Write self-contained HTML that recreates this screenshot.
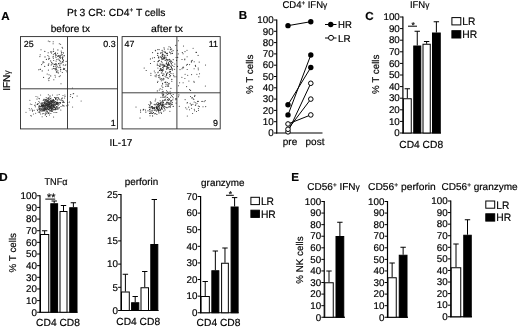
<!DOCTYPE html>
<html><head><meta charset="utf-8"><title>figure</title>
<style>
html,body{margin:0;padding:0;background:#fff;}
body{width:520px;height:328px;overflow:hidden;font-family:"Liberation Sans",sans-serif;}
svg{display:block;filter:blur(0.3px);}
svg text{font-family:"Liberation Sans",sans-serif;fill:#000;stroke:#000;stroke-width:0.18px;text-rendering:geometricPrecision;}
</style></head><body>
<svg width="520" height="328" viewBox="0 0 520 328">
<rect x="0" y="0" width="520" height="328" fill="#fff" stroke="none"/>
<text x="1.2" y="19.5" font-size="11.6" text-anchor="start" font-weight="bold" >A</text>
<text x="67" y="15.5" font-size="10.3" text-anchor="start" font-weight="normal" textLength="98.5" lengthAdjust="spacingAndGlyphs" >Pt 3 CR: CD4<tspan font-size="6.4" dy="-3.6">+</tspan><tspan dy="3.6"> T cells</tspan></text>
<text x="50.7" y="31.5" font-size="10" text-anchor="start" font-weight="normal" textLength="39.3" lengthAdjust="spacingAndGlyphs" >before tx</text>
<text x="151" y="31.5" font-size="10" text-anchor="start" font-weight="normal" textLength="32" lengthAdjust="spacingAndGlyphs" >after tx</text>
<text transform="translate(10.4,80.6) rotate(-90)" font-size="10" text-anchor="middle">IFN<tspan font-size="8.6">&#947;</tspan></text>
<text x="109.5" y="145.5" font-size="10" text-anchor="start" font-weight="normal" >IL-17</text>
<rect x="20.5" y="36.6" width="97.0" height="92.30000000000001" fill="#fff" stroke="#2a2a2a" stroke-width="0.9"/>
<line x1="67.5" y1="36.6" x2="67.5" y2="128.9" stroke="#2a2a2a" stroke-width="0.9"/>
<line x1="20.5" y1="88.8" x2="117.5" y2="88.8" stroke="#2a2a2a" stroke-width="0.9"/>
<circle cx="44.7" cy="66.4" r="0.56" fill="#3a3a3a"/>
<circle cx="62.5" cy="58.4" r="0.56" fill="#3a3a3a"/>
<circle cx="43.9" cy="62.4" r="0.56" fill="#3a3a3a"/>
<circle cx="58.3" cy="72.9" r="0.56" fill="#3a3a3a"/>
<circle cx="44.8" cy="51.4" r="0.56" fill="#3a3a3a"/>
<circle cx="60.1" cy="67.3" r="0.56" fill="#3a3a3a"/>
<circle cx="66.8" cy="71.8" r="0.56" fill="#3a3a3a"/>
<circle cx="53.7" cy="60.5" r="0.56" fill="#3a3a3a"/>
<circle cx="48.2" cy="52.8" r="0.56" fill="#3a3a3a"/>
<circle cx="55.3" cy="64.3" r="0.56" fill="#3a3a3a"/>
<circle cx="51.7" cy="62.4" r="0.56" fill="#3a3a3a"/>
<circle cx="56.7" cy="69.2" r="0.56" fill="#3a3a3a"/>
<circle cx="63.3" cy="64.9" r="0.56" fill="#3a3a3a"/>
<circle cx="40.2" cy="69.3" r="0.56" fill="#3a3a3a"/>
<circle cx="43.1" cy="61.5" r="0.56" fill="#3a3a3a"/>
<circle cx="42.7" cy="63.0" r="0.56" fill="#3a3a3a"/>
<circle cx="48.3" cy="64.9" r="0.56" fill="#3a3a3a"/>
<circle cx="61.2" cy="51.1" r="0.56" fill="#3a3a3a"/>
<circle cx="52.2" cy="69.0" r="0.56" fill="#3a3a3a"/>
<circle cx="53.8" cy="66.3" r="0.56" fill="#3a3a3a"/>
<circle cx="55.3" cy="53.9" r="0.56" fill="#3a3a3a"/>
<circle cx="59.0" cy="55.7" r="0.56" fill="#3a3a3a"/>
<circle cx="60.0" cy="63.0" r="0.56" fill="#3a3a3a"/>
<circle cx="62.1" cy="57.6" r="0.56" fill="#3a3a3a"/>
<circle cx="62.5" cy="61.9" r="0.56" fill="#3a3a3a"/>
<circle cx="64.6" cy="68.6" r="0.56" fill="#3a3a3a"/>
<circle cx="55.6" cy="56.0" r="0.56" fill="#3a3a3a"/>
<circle cx="60.6" cy="67.2" r="0.56" fill="#3a3a3a"/>
<circle cx="58.9" cy="67.6" r="0.56" fill="#3a3a3a"/>
<circle cx="56.8" cy="64.9" r="0.56" fill="#3a3a3a"/>
<circle cx="56.0" cy="57.6" r="0.56" fill="#3a3a3a"/>
<circle cx="46.4" cy="59.4" r="0.56" fill="#3a3a3a"/>
<circle cx="59.2" cy="76.6" r="0.56" fill="#3a3a3a"/>
<circle cx="62.3" cy="72.5" r="0.56" fill="#3a3a3a"/>
<circle cx="60.7" cy="69.3" r="0.56" fill="#3a3a3a"/>
<circle cx="56.0" cy="69.9" r="0.56" fill="#3a3a3a"/>
<circle cx="48.9" cy="80.6" r="0.56" fill="#3a3a3a"/>
<circle cx="56.5" cy="71.7" r="0.56" fill="#3a3a3a"/>
<circle cx="61.5" cy="52.8" r="0.56" fill="#3a3a3a"/>
<circle cx="55.9" cy="69.8" r="0.56" fill="#3a3a3a"/>
<circle cx="55.5" cy="55.0" r="0.56" fill="#3a3a3a"/>
<circle cx="53.6" cy="66.4" r="0.56" fill="#3a3a3a"/>
<circle cx="63.4" cy="69.4" r="0.56" fill="#3a3a3a"/>
<circle cx="55.0" cy="75.2" r="0.56" fill="#3a3a3a"/>
<circle cx="48.4" cy="70.1" r="0.56" fill="#3a3a3a"/>
<circle cx="63.4" cy="60.4" r="0.56" fill="#3a3a3a"/>
<circle cx="40.2" cy="54.8" r="0.56" fill="#3a3a3a"/>
<circle cx="56.4" cy="67.8" r="0.56" fill="#3a3a3a"/>
<circle cx="54.5" cy="68.8" r="0.56" fill="#3a3a3a"/>
<circle cx="53.2" cy="41.7" r="0.56" fill="#3a3a3a"/>
<circle cx="61.0" cy="83.8" r="0.56" fill="#3a3a3a"/>
<circle cx="62.5" cy="54.7" r="0.56" fill="#3a3a3a"/>
<circle cx="51.2" cy="65.0" r="0.56" fill="#3a3a3a"/>
<circle cx="55.4" cy="77.0" r="0.56" fill="#3a3a3a"/>
<circle cx="53.8" cy="79.8" r="0.56" fill="#3a3a3a"/>
<circle cx="49.0" cy="58.7" r="0.56" fill="#3a3a3a"/>
<circle cx="60.3" cy="75.8" r="0.56" fill="#3a3a3a"/>
<circle cx="59.7" cy="65.7" r="0.56" fill="#3a3a3a"/>
<circle cx="39.9" cy="56.6" r="0.56" fill="#3a3a3a"/>
<circle cx="49.6" cy="58.2" r="0.56" fill="#3a3a3a"/>
<circle cx="59.2" cy="60.0" r="0.56" fill="#3a3a3a"/>
<circle cx="60.8" cy="63.7" r="0.56" fill="#3a3a3a"/>
<circle cx="51.8" cy="64.1" r="0.56" fill="#3a3a3a"/>
<circle cx="57.9" cy="70.7" r="0.56" fill="#3a3a3a"/>
<circle cx="50.7" cy="60.9" r="0.56" fill="#3a3a3a"/>
<circle cx="43.6" cy="77.4" r="0.56" fill="#3a3a3a"/>
<circle cx="66.1" cy="61.4" r="0.56" fill="#3a3a3a"/>
<circle cx="50.7" cy="51.9" r="0.56" fill="#3a3a3a"/>
<circle cx="55.9" cy="64.9" r="0.56" fill="#3a3a3a"/>
<circle cx="48.3" cy="41.0" r="0.56" fill="#3a3a3a"/>
<circle cx="65.8" cy="64.7" r="0.56" fill="#3a3a3a"/>
<circle cx="41.6" cy="64.6" r="0.56" fill="#3a3a3a"/>
<circle cx="63.5" cy="68.2" r="0.56" fill="#3a3a3a"/>
<circle cx="53.1" cy="43.7" r="0.56" fill="#3a3a3a"/>
<circle cx="53.5" cy="49.0" r="0.56" fill="#3a3a3a"/>
<circle cx="59.3" cy="43.8" r="0.56" fill="#3a3a3a"/>
<circle cx="47.2" cy="74.0" r="0.56" fill="#3a3a3a"/>
<circle cx="42.2" cy="70.9" r="0.56" fill="#3a3a3a"/>
<circle cx="61.3" cy="54.1" r="0.56" fill="#3a3a3a"/>
<circle cx="48.9" cy="56.8" r="0.56" fill="#3a3a3a"/>
<circle cx="45.0" cy="56.9" r="0.56" fill="#3a3a3a"/>
<circle cx="64.5" cy="69.2" r="0.56" fill="#3a3a3a"/>
<circle cx="53.4" cy="54.2" r="0.56" fill="#3a3a3a"/>
<circle cx="53.5" cy="51.2" r="0.56" fill="#3a3a3a"/>
<circle cx="40.3" cy="69.3" r="0.56" fill="#3a3a3a"/>
<circle cx="66.0" cy="70.5" r="0.56" fill="#3a3a3a"/>
<circle cx="65.2" cy="65.3" r="0.56" fill="#3a3a3a"/>
<circle cx="48.8" cy="63.8" r="0.56" fill="#3a3a3a"/>
<circle cx="51.5" cy="53.0" r="0.56" fill="#3a3a3a"/>
<circle cx="41.0" cy="49.7" r="0.56" fill="#3a3a3a"/>
<circle cx="54.5" cy="64.4" r="0.56" fill="#3a3a3a"/>
<circle cx="50.7" cy="75.9" r="0.56" fill="#3a3a3a"/>
<circle cx="55.9" cy="68.2" r="0.56" fill="#3a3a3a"/>
<circle cx="64.2" cy="55.6" r="0.56" fill="#3a3a3a"/>
<circle cx="38.7" cy="69.8" r="0.56" fill="#3a3a3a"/>
<circle cx="49.0" cy="74.8" r="0.56" fill="#3a3a3a"/>
<circle cx="57.2" cy="72.1" r="0.56" fill="#3a3a3a"/>
<circle cx="60.6" cy="44.3" r="0.56" fill="#3a3a3a"/>
<circle cx="60.3" cy="56.9" r="0.56" fill="#3a3a3a"/>
<circle cx="48.5" cy="59.1" r="0.56" fill="#3a3a3a"/>
<circle cx="60.6" cy="71.0" r="0.56" fill="#3a3a3a"/>
<circle cx="62.6" cy="48.1" r="0.56" fill="#3a3a3a"/>
<circle cx="49.8" cy="41.6" r="0.56" fill="#3a3a3a"/>
<circle cx="53.7" cy="68.4" r="0.56" fill="#3a3a3a"/>
<circle cx="48.4" cy="65.2" r="0.56" fill="#3a3a3a"/>
<circle cx="56.4" cy="72.1" r="0.56" fill="#3a3a3a"/>
<circle cx="47.9" cy="55.5" r="0.56" fill="#3a3a3a"/>
<circle cx="48.4" cy="78.8" r="0.56" fill="#3a3a3a"/>
<circle cx="63.2" cy="61.9" r="0.56" fill="#3a3a3a"/>
<circle cx="56.3" cy="64.0" r="0.56" fill="#3a3a3a"/>
<circle cx="56.1" cy="61.1" r="0.56" fill="#3a3a3a"/>
<circle cx="51.8" cy="51.7" r="0.56" fill="#3a3a3a"/>
<circle cx="49.4" cy="77.9" r="0.56" fill="#3a3a3a"/>
<circle cx="58.8" cy="63.6" r="0.56" fill="#3a3a3a"/>
<circle cx="52.8" cy="63.6" r="0.56" fill="#3a3a3a"/>
<circle cx="60.2" cy="55.8" r="0.56" fill="#3a3a3a"/>
<circle cx="59.7" cy="60.2" r="0.56" fill="#3a3a3a"/>
<circle cx="56.4" cy="55.1" r="0.56" fill="#3a3a3a"/>
<circle cx="55.5" cy="53.7" r="0.56" fill="#3a3a3a"/>
<circle cx="62.1" cy="47.2" r="0.56" fill="#3a3a3a"/>
<circle cx="58.1" cy="55.9" r="0.56" fill="#3a3a3a"/>
<circle cx="56.8" cy="59.5" r="0.56" fill="#3a3a3a"/>
<circle cx="62.9" cy="59.4" r="0.56" fill="#3a3a3a"/>
<circle cx="58.5" cy="55.9" r="0.56" fill="#3a3a3a"/>
<circle cx="58.5" cy="63.6" r="0.56" fill="#3a3a3a"/>
<circle cx="57.6" cy="53.3" r="0.56" fill="#3a3a3a"/>
<circle cx="54.6" cy="53.5" r="0.56" fill="#3a3a3a"/>
<circle cx="54.1" cy="64.5" r="0.56" fill="#3a3a3a"/>
<circle cx="60.2" cy="57.8" r="0.56" fill="#3a3a3a"/>
<circle cx="64.1" cy="55.7" r="0.56" fill="#3a3a3a"/>
<circle cx="61.6" cy="63.0" r="0.56" fill="#3a3a3a"/>
<circle cx="53.6" cy="51.2" r="0.56" fill="#3a3a3a"/>
<circle cx="55.8" cy="63.5" r="0.56" fill="#3a3a3a"/>
<circle cx="63.5" cy="52.9" r="0.56" fill="#3a3a3a"/>
<circle cx="62.7" cy="57.1" r="0.56" fill="#3a3a3a"/>
<circle cx="57.6" cy="56.2" r="0.56" fill="#3a3a3a"/>
<circle cx="57.9" cy="49.9" r="0.56" fill="#3a3a3a"/>
<circle cx="55.5" cy="52.8" r="0.56" fill="#3a3a3a"/>
<circle cx="60.7" cy="69.4" r="0.56" fill="#3a3a3a"/>
<circle cx="53.0" cy="57.0" r="0.56" fill="#3a3a3a"/>
<circle cx="55.7" cy="68.9" r="0.56" fill="#3a3a3a"/>
<circle cx="61.0" cy="55.4" r="0.56" fill="#3a3a3a"/>
<circle cx="62.3" cy="61.7" r="0.56" fill="#3a3a3a"/>
<circle cx="53.3" cy="56.3" r="0.56" fill="#3a3a3a"/>
<circle cx="58.2" cy="59.1" r="0.56" fill="#3a3a3a"/>
<circle cx="59.5" cy="57.3" r="0.56" fill="#3a3a3a"/>
<circle cx="59.7" cy="56.1" r="0.56" fill="#3a3a3a"/>
<circle cx="55.9" cy="66.6" r="0.56" fill="#3a3a3a"/>
<circle cx="60.3" cy="61.2" r="0.56" fill="#3a3a3a"/>
<circle cx="53.4" cy="58.2" r="0.56" fill="#3a3a3a"/>
<circle cx="61.9" cy="52.5" r="0.56" fill="#3a3a3a"/>
<circle cx="62.8" cy="57.1" r="0.56" fill="#3a3a3a"/>
<circle cx="60.4" cy="58.3" r="0.56" fill="#3a3a3a"/>
<circle cx="59.8" cy="65.0" r="0.56" fill="#3a3a3a"/>
<circle cx="57.6" cy="66.8" r="0.56" fill="#3a3a3a"/>
<circle cx="44.6" cy="102.9" r="0.5" fill="#222"/>
<circle cx="53.6" cy="100.7" r="0.5" fill="#222"/>
<circle cx="47.1" cy="108.9" r="0.5" fill="#222"/>
<circle cx="56.6" cy="97.7" r="0.5" fill="#222"/>
<circle cx="52.3" cy="111.4" r="0.5" fill="#222"/>
<circle cx="56.5" cy="103.1" r="0.5" fill="#222"/>
<circle cx="45.7" cy="104.9" r="0.5" fill="#222"/>
<circle cx="42.4" cy="105.6" r="0.5" fill="#222"/>
<circle cx="48.2" cy="105.0" r="0.5" fill="#222"/>
<circle cx="56.4" cy="103.2" r="0.5" fill="#222"/>
<circle cx="40.6" cy="110.6" r="0.5" fill="#222"/>
<circle cx="42.9" cy="104.9" r="0.5" fill="#222"/>
<circle cx="48.5" cy="104.2" r="0.5" fill="#222"/>
<circle cx="43.3" cy="105.5" r="0.5" fill="#222"/>
<circle cx="62.4" cy="100.7" r="0.5" fill="#222"/>
<circle cx="48.5" cy="109.4" r="0.5" fill="#222"/>
<circle cx="53.8" cy="107.2" r="0.5" fill="#222"/>
<circle cx="54.5" cy="97.4" r="0.5" fill="#222"/>
<circle cx="44.1" cy="106.7" r="0.5" fill="#222"/>
<circle cx="52.3" cy="109.3" r="0.5" fill="#222"/>
<circle cx="52.1" cy="103.9" r="0.5" fill="#222"/>
<circle cx="49.5" cy="104.5" r="0.5" fill="#222"/>
<circle cx="50.8" cy="107.4" r="0.5" fill="#222"/>
<circle cx="47.3" cy="102.8" r="0.5" fill="#222"/>
<circle cx="44.2" cy="110.1" r="0.5" fill="#222"/>
<circle cx="57.0" cy="107.4" r="0.5" fill="#222"/>
<circle cx="54.4" cy="107.3" r="0.5" fill="#222"/>
<circle cx="49.3" cy="107.6" r="0.5" fill="#222"/>
<circle cx="43.0" cy="105.8" r="0.5" fill="#222"/>
<circle cx="44.9" cy="108.7" r="0.5" fill="#222"/>
<circle cx="45.8" cy="105.6" r="0.5" fill="#222"/>
<circle cx="51.7" cy="109.6" r="0.5" fill="#222"/>
<circle cx="44.5" cy="102.9" r="0.5" fill="#222"/>
<circle cx="54.2" cy="100.5" r="0.5" fill="#222"/>
<circle cx="52.0" cy="102.8" r="0.5" fill="#222"/>
<circle cx="48.7" cy="99.0" r="0.5" fill="#222"/>
<circle cx="53.6" cy="102.7" r="0.5" fill="#222"/>
<circle cx="43.9" cy="113.6" r="0.5" fill="#222"/>
<circle cx="53.6" cy="116.9" r="0.5" fill="#222"/>
<circle cx="51.7" cy="103.6" r="0.5" fill="#222"/>
<circle cx="49.9" cy="110.9" r="0.5" fill="#222"/>
<circle cx="49.1" cy="106.9" r="0.5" fill="#222"/>
<circle cx="52.4" cy="101.5" r="0.5" fill="#222"/>
<circle cx="50.1" cy="103.4" r="0.5" fill="#222"/>
<circle cx="41.8" cy="109.8" r="0.5" fill="#222"/>
<circle cx="53.3" cy="104.8" r="0.5" fill="#222"/>
<circle cx="43.9" cy="99.2" r="0.5" fill="#222"/>
<circle cx="52.2" cy="104.4" r="0.5" fill="#222"/>
<circle cx="39.2" cy="107.0" r="0.5" fill="#222"/>
<circle cx="40.2" cy="106.9" r="0.5" fill="#222"/>
<circle cx="50.2" cy="106.4" r="0.5" fill="#222"/>
<circle cx="50.6" cy="105.7" r="0.5" fill="#222"/>
<circle cx="42.5" cy="105.2" r="0.5" fill="#222"/>
<circle cx="46.2" cy="105.0" r="0.5" fill="#222"/>
<circle cx="50.9" cy="107.2" r="0.5" fill="#222"/>
<circle cx="59.1" cy="94.4" r="0.5" fill="#222"/>
<circle cx="51.7" cy="104.2" r="0.5" fill="#222"/>
<circle cx="63.0" cy="106.1" r="0.5" fill="#222"/>
<circle cx="39.4" cy="108.6" r="0.5" fill="#222"/>
<circle cx="46.2" cy="109.4" r="0.5" fill="#222"/>
<circle cx="43.0" cy="106.1" r="0.5" fill="#222"/>
<circle cx="48.5" cy="105.1" r="0.5" fill="#222"/>
<circle cx="45.8" cy="99.5" r="0.5" fill="#222"/>
<circle cx="52.1" cy="108.3" r="0.5" fill="#222"/>
<circle cx="48.9" cy="101.8" r="0.5" fill="#222"/>
<circle cx="50.5" cy="107.1" r="0.5" fill="#222"/>
<circle cx="48.2" cy="105.4" r="0.5" fill="#222"/>
<circle cx="57.8" cy="99.8" r="0.5" fill="#222"/>
<circle cx="46.0" cy="99.2" r="0.5" fill="#222"/>
<circle cx="45.1" cy="103.5" r="0.5" fill="#222"/>
<circle cx="43.5" cy="103.9" r="0.5" fill="#222"/>
<circle cx="60.1" cy="102.6" r="0.5" fill="#222"/>
<circle cx="48.6" cy="113.2" r="0.5" fill="#222"/>
<circle cx="48.9" cy="99.2" r="0.5" fill="#222"/>
<circle cx="51.7" cy="101.5" r="0.5" fill="#222"/>
<circle cx="59.1" cy="99.1" r="0.5" fill="#222"/>
<circle cx="45.8" cy="100.3" r="0.5" fill="#222"/>
<circle cx="49.9" cy="101.6" r="0.5" fill="#222"/>
<circle cx="48.9" cy="104.0" r="0.5" fill="#222"/>
<circle cx="45.6" cy="109.3" r="0.5" fill="#222"/>
<circle cx="54.9" cy="104.5" r="0.5" fill="#222"/>
<circle cx="43.9" cy="102.5" r="0.5" fill="#222"/>
<circle cx="50.9" cy="113.4" r="0.5" fill="#222"/>
<circle cx="46.6" cy="103.0" r="0.5" fill="#222"/>
<circle cx="45.1" cy="102.2" r="0.5" fill="#222"/>
<circle cx="43.5" cy="105.7" r="0.5" fill="#222"/>
<circle cx="57.9" cy="103.7" r="0.5" fill="#222"/>
<circle cx="46.2" cy="100.2" r="0.5" fill="#222"/>
<circle cx="50.6" cy="105.0" r="0.5" fill="#222"/>
<circle cx="41.9" cy="102.8" r="0.5" fill="#222"/>
<circle cx="49.0" cy="108.9" r="0.5" fill="#222"/>
<circle cx="53.1" cy="105.3" r="0.5" fill="#222"/>
<circle cx="47.4" cy="106.8" r="0.5" fill="#222"/>
<circle cx="49.2" cy="113.0" r="0.5" fill="#222"/>
<circle cx="42.5" cy="105.3" r="0.5" fill="#222"/>
<circle cx="56.9" cy="103.0" r="0.5" fill="#222"/>
<circle cx="57.8" cy="103.6" r="0.5" fill="#222"/>
<circle cx="50.2" cy="103.8" r="0.5" fill="#222"/>
<circle cx="41.0" cy="103.4" r="0.5" fill="#222"/>
<circle cx="62.6" cy="105.1" r="0.5" fill="#222"/>
<circle cx="52.9" cy="108.0" r="0.5" fill="#222"/>
<circle cx="52.7" cy="108.3" r="0.5" fill="#222"/>
<circle cx="47.7" cy="104.8" r="0.5" fill="#222"/>
<circle cx="55.2" cy="103.0" r="0.5" fill="#222"/>
<circle cx="41.3" cy="106.0" r="0.5" fill="#222"/>
<circle cx="46.0" cy="108.1" r="0.5" fill="#222"/>
<circle cx="45.0" cy="102.4" r="0.5" fill="#222"/>
<circle cx="47.3" cy="111.1" r="0.5" fill="#222"/>
<circle cx="49.0" cy="105.9" r="0.5" fill="#222"/>
<circle cx="49.4" cy="106.3" r="0.5" fill="#222"/>
<circle cx="54.9" cy="109.2" r="0.5" fill="#222"/>
<circle cx="39.4" cy="111.9" r="0.5" fill="#222"/>
<circle cx="49.3" cy="104.2" r="0.5" fill="#222"/>
<circle cx="63.7" cy="102.0" r="0.5" fill="#222"/>
<circle cx="61.0" cy="106.6" r="0.5" fill="#222"/>
<circle cx="43.1" cy="108.2" r="0.5" fill="#222"/>
<circle cx="53.7" cy="104.0" r="0.5" fill="#222"/>
<circle cx="35.3" cy="106.7" r="0.5" fill="#222"/>
<circle cx="48.2" cy="101.6" r="0.5" fill="#222"/>
<circle cx="60.3" cy="102.4" r="0.5" fill="#222"/>
<circle cx="46.9" cy="104.7" r="0.5" fill="#222"/>
<circle cx="44.6" cy="103.4" r="0.5" fill="#222"/>
<circle cx="49.9" cy="106.3" r="0.5" fill="#222"/>
<circle cx="46.3" cy="105.5" r="0.5" fill="#222"/>
<circle cx="41.0" cy="108.7" r="0.5" fill="#222"/>
<circle cx="44.8" cy="106.9" r="0.5" fill="#222"/>
<circle cx="43.9" cy="104.5" r="0.5" fill="#222"/>
<circle cx="50.6" cy="100.8" r="0.5" fill="#222"/>
<circle cx="64.1" cy="102.4" r="0.5" fill="#222"/>
<circle cx="48.9" cy="102.8" r="0.5" fill="#222"/>
<circle cx="58.9" cy="108.4" r="0.5" fill="#222"/>
<circle cx="51.1" cy="100.1" r="0.5" fill="#222"/>
<circle cx="46.3" cy="108.0" r="0.5" fill="#222"/>
<circle cx="46.2" cy="101.7" r="0.5" fill="#222"/>
<circle cx="42.2" cy="103.9" r="0.5" fill="#222"/>
<circle cx="49.4" cy="103.0" r="0.5" fill="#222"/>
<circle cx="49.4" cy="115.1" r="0.5" fill="#222"/>
<circle cx="59.9" cy="99.7" r="0.5" fill="#222"/>
<circle cx="51.4" cy="105.2" r="0.5" fill="#222"/>
<circle cx="48.5" cy="109.1" r="0.5" fill="#222"/>
<circle cx="47.3" cy="104.5" r="0.5" fill="#222"/>
<circle cx="47.1" cy="105.4" r="0.5" fill="#222"/>
<circle cx="57.0" cy="106.6" r="0.5" fill="#222"/>
<circle cx="41.3" cy="105.2" r="0.5" fill="#222"/>
<circle cx="44.5" cy="109.1" r="0.5" fill="#222"/>
<circle cx="50.6" cy="108.2" r="0.5" fill="#222"/>
<circle cx="48.9" cy="98.6" r="0.5" fill="#222"/>
<circle cx="52.0" cy="105.6" r="0.5" fill="#222"/>
<circle cx="52.3" cy="100.1" r="0.5" fill="#222"/>
<circle cx="49.8" cy="102.8" r="0.5" fill="#222"/>
<circle cx="45.2" cy="107.3" r="0.5" fill="#222"/>
<circle cx="51.4" cy="101.8" r="0.5" fill="#222"/>
<circle cx="39.0" cy="98.5" r="0.5" fill="#222"/>
<circle cx="45.8" cy="109.9" r="0.5" fill="#222"/>
<circle cx="49.0" cy="97.4" r="0.5" fill="#222"/>
<circle cx="44.1" cy="107.7" r="0.5" fill="#222"/>
<circle cx="59.3" cy="107.6" r="0.5" fill="#222"/>
<circle cx="51.5" cy="105.6" r="0.5" fill="#222"/>
<circle cx="42.9" cy="104.9" r="0.5" fill="#222"/>
<circle cx="47.3" cy="102.9" r="0.5" fill="#222"/>
<circle cx="49.7" cy="103.8" r="0.5" fill="#222"/>
<circle cx="51.3" cy="110.0" r="0.5" fill="#222"/>
<circle cx="53.7" cy="106.0" r="0.5" fill="#222"/>
<circle cx="47.9" cy="100.2" r="0.5" fill="#222"/>
<circle cx="48.6" cy="107.3" r="0.5" fill="#222"/>
<circle cx="43.2" cy="110.8" r="0.5" fill="#222"/>
<circle cx="47.3" cy="107.0" r="0.5" fill="#222"/>
<circle cx="47.3" cy="101.2" r="0.5" fill="#222"/>
<circle cx="61.7" cy="98.9" r="0.5" fill="#222"/>
<circle cx="54.8" cy="102.3" r="0.5" fill="#222"/>
<circle cx="51.0" cy="102.1" r="0.5" fill="#222"/>
<circle cx="46.8" cy="109.0" r="0.5" fill="#222"/>
<circle cx="61.0" cy="100.2" r="0.5" fill="#222"/>
<circle cx="49.4" cy="108.6" r="0.5" fill="#222"/>
<circle cx="45.5" cy="108.5" r="0.5" fill="#222"/>
<circle cx="44.6" cy="108.3" r="0.5" fill="#222"/>
<circle cx="51.9" cy="109.1" r="0.5" fill="#222"/>
<circle cx="51.5" cy="100.7" r="0.5" fill="#222"/>
<circle cx="53.3" cy="100.7" r="0.5" fill="#222"/>
<circle cx="53.8" cy="109.8" r="0.5" fill="#222"/>
<circle cx="52.9" cy="102.7" r="0.5" fill="#222"/>
<circle cx="56.5" cy="104.6" r="0.5" fill="#222"/>
<circle cx="41.8" cy="105.4" r="0.5" fill="#222"/>
<circle cx="57.8" cy="102.7" r="0.5" fill="#222"/>
<circle cx="50.0" cy="104.0" r="0.5" fill="#222"/>
<circle cx="39.2" cy="105.4" r="0.5" fill="#222"/>
<circle cx="51.4" cy="105.6" r="0.5" fill="#222"/>
<circle cx="48.3" cy="98.0" r="0.5" fill="#222"/>
<circle cx="56.6" cy="106.5" r="0.5" fill="#222"/>
<circle cx="55.4" cy="108.8" r="0.5" fill="#222"/>
<circle cx="46.6" cy="103.7" r="0.5" fill="#222"/>
<circle cx="51.2" cy="110.9" r="0.5" fill="#222"/>
<circle cx="39.2" cy="106.4" r="0.5" fill="#222"/>
<circle cx="45.0" cy="108.1" r="0.5" fill="#222"/>
<circle cx="58.1" cy="102.6" r="0.5" fill="#222"/>
<circle cx="41.9" cy="106.9" r="0.5" fill="#222"/>
<circle cx="47.6" cy="100.2" r="0.5" fill="#222"/>
<circle cx="54.6" cy="102.5" r="0.5" fill="#222"/>
<circle cx="53.4" cy="99.9" r="0.5" fill="#222"/>
<circle cx="55.9" cy="99.0" r="0.5" fill="#222"/>
<circle cx="55.6" cy="97.7" r="0.5" fill="#222"/>
<circle cx="57.6" cy="102.4" r="0.5" fill="#222"/>
<circle cx="40.0" cy="106.2" r="0.5" fill="#222"/>
<circle cx="51.3" cy="101.4" r="0.5" fill="#222"/>
<circle cx="46.3" cy="106.8" r="0.5" fill="#222"/>
<circle cx="48.3" cy="94.7" r="0.5" fill="#222"/>
<circle cx="46.7" cy="107.3" r="0.5" fill="#222"/>
<circle cx="51.1" cy="108.5" r="0.5" fill="#222"/>
<circle cx="45.2" cy="115.1" r="0.5" fill="#222"/>
<circle cx="54.1" cy="105.5" r="0.5" fill="#222"/>
<circle cx="55.8" cy="107.5" r="0.5" fill="#222"/>
<circle cx="49.9" cy="103.0" r="0.5" fill="#222"/>
<circle cx="55.4" cy="105.7" r="0.5" fill="#222"/>
<circle cx="37.9" cy="103.5" r="0.5" fill="#222"/>
<circle cx="52.1" cy="105.2" r="0.5" fill="#222"/>
<circle cx="51.0" cy="107.3" r="0.5" fill="#222"/>
<circle cx="50.2" cy="110.7" r="0.5" fill="#222"/>
<circle cx="45.8" cy="104.5" r="0.5" fill="#222"/>
<circle cx="51.2" cy="107.6" r="0.5" fill="#222"/>
<circle cx="54.0" cy="109.7" r="0.5" fill="#222"/>
<circle cx="46.4" cy="109.9" r="0.5" fill="#222"/>
<circle cx="52.1" cy="101.1" r="0.5" fill="#222"/>
<circle cx="48.5" cy="112.8" r="0.5" fill="#222"/>
<circle cx="54.0" cy="102.8" r="0.5" fill="#222"/>
<circle cx="34.9" cy="105.4" r="0.5" fill="#222"/>
<circle cx="45.1" cy="106.4" r="0.5" fill="#222"/>
<circle cx="63.2" cy="105.4" r="0.5" fill="#222"/>
<circle cx="51.2" cy="101.7" r="0.5" fill="#222"/>
<circle cx="42.2" cy="105.9" r="0.5" fill="#222"/>
<circle cx="46.5" cy="116.4" r="0.5" fill="#222"/>
<circle cx="46.9" cy="103.6" r="0.5" fill="#222"/>
<circle cx="56.1" cy="104.3" r="0.5" fill="#222"/>
<circle cx="41.9" cy="111.2" r="0.5" fill="#222"/>
<circle cx="47.4" cy="101.0" r="0.5" fill="#222"/>
<circle cx="51.2" cy="106.7" r="0.5" fill="#222"/>
<circle cx="47.3" cy="108.1" r="0.5" fill="#222"/>
<circle cx="54.2" cy="101.3" r="0.5" fill="#222"/>
<circle cx="37.0" cy="99.1" r="0.5" fill="#222"/>
<circle cx="48.5" cy="109.8" r="0.5" fill="#222"/>
<circle cx="55.3" cy="109.1" r="0.5" fill="#222"/>
<circle cx="60.4" cy="103.3" r="0.5" fill="#222"/>
<circle cx="55.6" cy="98.7" r="0.5" fill="#222"/>
<circle cx="53.4" cy="105.9" r="0.5" fill="#222"/>
<circle cx="48.7" cy="103.8" r="0.5" fill="#222"/>
<circle cx="42.6" cy="107.0" r="0.5" fill="#222"/>
<circle cx="57.0" cy="102.6" r="0.5" fill="#222"/>
<circle cx="52.5" cy="102.4" r="0.5" fill="#222"/>
<circle cx="50.8" cy="101.5" r="0.5" fill="#222"/>
<circle cx="51.6" cy="104.1" r="0.5" fill="#222"/>
<circle cx="51.2" cy="102.8" r="0.5" fill="#222"/>
<circle cx="42.2" cy="105.4" r="0.5" fill="#222"/>
<circle cx="55.5" cy="109.7" r="0.5" fill="#222"/>
<circle cx="47.4" cy="108.5" r="0.5" fill="#222"/>
<circle cx="53.9" cy="105.8" r="0.5" fill="#222"/>
<circle cx="40.0" cy="108.2" r="0.5" fill="#222"/>
<circle cx="43.5" cy="110.5" r="0.5" fill="#222"/>
<circle cx="54.0" cy="106.6" r="0.5" fill="#222"/>
<circle cx="34.1" cy="110.3" r="0.5" fill="#222"/>
<circle cx="53.5" cy="100.0" r="0.5" fill="#222"/>
<circle cx="55.1" cy="104.5" r="0.5" fill="#222"/>
<circle cx="48.2" cy="103.0" r="0.5" fill="#222"/>
<circle cx="43.2" cy="104.9" r="0.5" fill="#222"/>
<circle cx="67.8" cy="102.6" r="0.5" fill="#222"/>
<circle cx="50.5" cy="102.8" r="0.5" fill="#222"/>
<circle cx="45.6" cy="104.0" r="0.5" fill="#222"/>
<circle cx="44.0" cy="109.4" r="0.5" fill="#222"/>
<circle cx="47.7" cy="108.7" r="0.5" fill="#222"/>
<circle cx="42.4" cy="109.9" r="0.5" fill="#222"/>
<circle cx="49.1" cy="107.7" r="0.5" fill="#222"/>
<circle cx="48.7" cy="102.3" r="0.5" fill="#222"/>
<circle cx="56.6" cy="102.4" r="0.5" fill="#222"/>
<circle cx="48.4" cy="102.3" r="0.5" fill="#222"/>
<circle cx="50.5" cy="103.7" r="0.5" fill="#222"/>
<circle cx="51.0" cy="106.2" r="0.5" fill="#222"/>
<circle cx="45.2" cy="101.1" r="0.5" fill="#222"/>
<circle cx="51.9" cy="108.1" r="0.5" fill="#222"/>
<circle cx="53.5" cy="100.5" r="0.5" fill="#222"/>
<circle cx="52.9" cy="106.0" r="0.5" fill="#222"/>
<circle cx="51.0" cy="106.5" r="0.5" fill="#222"/>
<circle cx="47.4" cy="106.4" r="0.5" fill="#222"/>
<circle cx="54.9" cy="102.5" r="0.5" fill="#222"/>
<circle cx="40.7" cy="106.5" r="0.5" fill="#222"/>
<circle cx="50.5" cy="98.6" r="0.5" fill="#222"/>
<circle cx="45.2" cy="108.1" r="0.5" fill="#222"/>
<circle cx="48.4" cy="105.8" r="0.5" fill="#222"/>
<circle cx="41.7" cy="109.9" r="0.5" fill="#222"/>
<circle cx="59.8" cy="102.6" r="0.5" fill="#222"/>
<circle cx="44.9" cy="102.0" r="0.5" fill="#222"/>
<circle cx="54.6" cy="104.7" r="0.5" fill="#222"/>
<circle cx="44.5" cy="110.5" r="0.5" fill="#222"/>
<circle cx="53.9" cy="106.6" r="0.5" fill="#222"/>
<circle cx="38.7" cy="106.9" r="0.5" fill="#222"/>
<circle cx="53.1" cy="100.3" r="0.5" fill="#222"/>
<circle cx="54.9" cy="109.3" r="0.5" fill="#222"/>
<circle cx="55.5" cy="101.6" r="0.5" fill="#222"/>
<circle cx="45.1" cy="109.4" r="0.5" fill="#222"/>
<circle cx="55.3" cy="108.5" r="0.5" fill="#222"/>
<circle cx="56.5" cy="103.6" r="0.5" fill="#222"/>
<circle cx="46.8" cy="99.2" r="0.5" fill="#222"/>
<circle cx="54.0" cy="112.5" r="0.5" fill="#222"/>
<circle cx="46.5" cy="104.1" r="0.5" fill="#222"/>
<circle cx="53.2" cy="105.9" r="0.5" fill="#222"/>
<circle cx="41.1" cy="104.3" r="0.5" fill="#222"/>
<circle cx="42.7" cy="113.7" r="0.5" fill="#222"/>
<circle cx="45.0" cy="109.1" r="0.5" fill="#222"/>
<circle cx="60.8" cy="109.9" r="0.5" fill="#222"/>
<circle cx="57.9" cy="109.5" r="0.5" fill="#222"/>
<circle cx="41.9" cy="105.5" r="0.5" fill="#222"/>
<circle cx="44.9" cy="105.1" r="0.5" fill="#222"/>
<circle cx="65.0" cy="96.5" r="0.5" fill="#222"/>
<circle cx="52.6" cy="100.3" r="0.5" fill="#222"/>
<circle cx="57.3" cy="108.4" r="0.5" fill="#222"/>
<circle cx="46.2" cy="113.2" r="0.5" fill="#222"/>
<circle cx="49.7" cy="109.8" r="0.5" fill="#222"/>
<circle cx="51.2" cy="103.0" r="0.5" fill="#222"/>
<circle cx="47.0" cy="105.3" r="0.5" fill="#222"/>
<circle cx="53.0" cy="105.1" r="0.5" fill="#222"/>
<circle cx="63.5" cy="102.0" r="0.5" fill="#222"/>
<circle cx="46.5" cy="103.3" r="0.5" fill="#222"/>
<circle cx="44.6" cy="101.1" r="0.5" fill="#222"/>
<circle cx="43.4" cy="109.6" r="0.5" fill="#222"/>
<circle cx="49.7" cy="104.6" r="0.5" fill="#222"/>
<circle cx="51.4" cy="108.7" r="0.5" fill="#222"/>
<circle cx="53.0" cy="107.3" r="0.5" fill="#222"/>
<circle cx="45.9" cy="105.0" r="0.5" fill="#222"/>
<circle cx="44.6" cy="105.8" r="0.5" fill="#222"/>
<circle cx="44.4" cy="104.9" r="0.5" fill="#222"/>
<circle cx="48.3" cy="104.7" r="0.5" fill="#222"/>
<circle cx="47.7" cy="103.9" r="0.5" fill="#222"/>
<circle cx="57.2" cy="102.6" r="0.5" fill="#222"/>
<circle cx="43.2" cy="107.1" r="0.5" fill="#222"/>
<circle cx="42.8" cy="102.7" r="0.5" fill="#222"/>
<circle cx="49.8" cy="99.3" r="0.5" fill="#222"/>
<circle cx="30.0" cy="109.9" r="0.5" fill="#222"/>
<circle cx="55.5" cy="98.3" r="0.5" fill="#222"/>
<circle cx="43.9" cy="108.3" r="0.5" fill="#222"/>
<circle cx="37.4" cy="104.4" r="0.5" fill="#222"/>
<circle cx="42.1" cy="105.9" r="0.5" fill="#222"/>
<circle cx="37.5" cy="110.6" r="0.5" fill="#222"/>
<circle cx="48.4" cy="106.5" r="0.5" fill="#222"/>
<circle cx="47.3" cy="98.2" r="0.5" fill="#222"/>
<circle cx="48.4" cy="100.7" r="0.5" fill="#222"/>
<circle cx="49.4" cy="102.3" r="0.5" fill="#222"/>
<circle cx="47.4" cy="104.9" r="0.5" fill="#222"/>
<circle cx="53.9" cy="107.1" r="0.5" fill="#222"/>
<circle cx="43.3" cy="106.4" r="0.5" fill="#222"/>
<circle cx="58.1" cy="105.4" r="0.5" fill="#222"/>
<circle cx="44.9" cy="105.7" r="0.5" fill="#222"/>
<circle cx="47.2" cy="109.0" r="0.5" fill="#222"/>
<circle cx="49.5" cy="106.6" r="0.5" fill="#222"/>
<circle cx="62.6" cy="98.0" r="0.5" fill="#222"/>
<circle cx="43.2" cy="100.3" r="0.5" fill="#222"/>
<circle cx="39.7" cy="110.1" r="0.5" fill="#222"/>
<circle cx="51.1" cy="110.7" r="0.5" fill="#222"/>
<circle cx="37.5" cy="104.4" r="0.5" fill="#222"/>
<circle cx="58.0" cy="107.3" r="0.5" fill="#222"/>
<circle cx="54.6" cy="107.4" r="0.5" fill="#222"/>
<circle cx="49.5" cy="105.2" r="0.5" fill="#222"/>
<circle cx="49.5" cy="108.2" r="0.5" fill="#222"/>
<circle cx="48.3" cy="106.6" r="0.5" fill="#222"/>
<circle cx="63.0" cy="95.6" r="0.5" fill="#3a3a3a"/>
<circle cx="41.0" cy="109.0" r="0.5" fill="#3a3a3a"/>
<circle cx="45.9" cy="104.3" r="0.5" fill="#3a3a3a"/>
<circle cx="69.5" cy="102.0" r="0.5" fill="#3a3a3a"/>
<circle cx="44.3" cy="111.0" r="0.5" fill="#3a3a3a"/>
<circle cx="73.7" cy="93.4" r="0.5" fill="#3a3a3a"/>
<circle cx="41.8" cy="106.6" r="0.5" fill="#3a3a3a"/>
<circle cx="42.1" cy="116.8" r="0.5" fill="#3a3a3a"/>
<circle cx="53.8" cy="101.3" r="0.5" fill="#3a3a3a"/>
<circle cx="53.4" cy="99.4" r="0.5" fill="#3a3a3a"/>
<circle cx="42.4" cy="106.4" r="0.5" fill="#3a3a3a"/>
<circle cx="72.4" cy="87.9" r="0.5" fill="#3a3a3a"/>
<circle cx="52.7" cy="110.4" r="0.5" fill="#3a3a3a"/>
<circle cx="55.9" cy="112.6" r="0.5" fill="#3a3a3a"/>
<circle cx="53.0" cy="104.2" r="0.5" fill="#3a3a3a"/>
<circle cx="47.2" cy="100.5" r="0.5" fill="#3a3a3a"/>
<circle cx="64.9" cy="94.9" r="0.5" fill="#3a3a3a"/>
<circle cx="47.3" cy="102.1" r="0.5" fill="#3a3a3a"/>
<circle cx="40.6" cy="95.0" r="0.5" fill="#3a3a3a"/>
<circle cx="44.7" cy="106.0" r="0.5" fill="#3a3a3a"/>
<circle cx="49.9" cy="108.4" r="0.5" fill="#3a3a3a"/>
<circle cx="46.9" cy="101.6" r="0.5" fill="#3a3a3a"/>
<circle cx="51.6" cy="107.2" r="0.5" fill="#3a3a3a"/>
<circle cx="39.5" cy="98.8" r="0.5" fill="#3a3a3a"/>
<circle cx="38.2" cy="112.1" r="0.5" fill="#3a3a3a"/>
<circle cx="58.5" cy="97.8" r="0.5" fill="#3a3a3a"/>
<circle cx="49.6" cy="108.5" r="0.5" fill="#3a3a3a"/>
<circle cx="61.8" cy="98.3" r="0.5" fill="#3a3a3a"/>
<circle cx="46.1" cy="112.1" r="0.5" fill="#3a3a3a"/>
<circle cx="72.6" cy="106.9" r="0.5" fill="#3a3a3a"/>
<circle cx="37.1" cy="109.3" r="0.5" fill="#3a3a3a"/>
<circle cx="45.5" cy="104.9" r="0.5" fill="#3a3a3a"/>
<circle cx="41.9" cy="103.5" r="0.5" fill="#3a3a3a"/>
<circle cx="48.4" cy="113.6" r="0.5" fill="#3a3a3a"/>
<circle cx="55.5" cy="105.1" r="0.5" fill="#3a3a3a"/>
<circle cx="48.8" cy="100.7" r="0.5" fill="#3a3a3a"/>
<circle cx="46.2" cy="111.3" r="0.5" fill="#3a3a3a"/>
<circle cx="56.8" cy="112.6" r="0.5" fill="#3a3a3a"/>
<circle cx="51.1" cy="103.8" r="0.5" fill="#3a3a3a"/>
<circle cx="32.3" cy="110.1" r="0.5" fill="#3a3a3a"/>
<circle cx="31.3" cy="116.0" r="0.5" fill="#3a3a3a"/>
<circle cx="42.2" cy="105.9" r="0.5" fill="#3a3a3a"/>
<circle cx="35.0" cy="105.0" r="0.5" fill="#3a3a3a"/>
<circle cx="39.2" cy="112.3" r="0.5" fill="#3a3a3a"/>
<circle cx="51.0" cy="98.0" r="0.5" fill="#3a3a3a"/>
<circle cx="29.2" cy="108.4" r="0.5" fill="#3a3a3a"/>
<circle cx="43.6" cy="100.0" r="0.5" fill="#3a3a3a"/>
<circle cx="54.4" cy="102.3" r="0.5" fill="#3a3a3a"/>
<circle cx="49.6" cy="101.3" r="0.5" fill="#3a3a3a"/>
<circle cx="42.8" cy="103.4" r="0.5" fill="#3a3a3a"/>
<circle cx="32.5" cy="111.2" r="0.5" fill="#3a3a3a"/>
<circle cx="52.5" cy="94.9" r="0.5" fill="#3a3a3a"/>
<circle cx="49.5" cy="110.1" r="0.5" fill="#3a3a3a"/>
<circle cx="50.9" cy="110.5" r="0.5" fill="#3a3a3a"/>
<circle cx="45.8" cy="105.1" r="0.5" fill="#3a3a3a"/>
<circle cx="35.5" cy="102.8" r="0.5" fill="#3a3a3a"/>
<circle cx="30.3" cy="104.0" r="0.5" fill="#3a3a3a"/>
<circle cx="50.9" cy="106.6" r="0.5" fill="#3a3a3a"/>
<circle cx="60.1" cy="102.6" r="0.5" fill="#3a3a3a"/>
<circle cx="38.6" cy="108.9" r="0.5" fill="#3a3a3a"/>
<circle cx="47.0" cy="113.8" r="0.5" fill="#3a3a3a"/>
<circle cx="68.1" cy="105.0" r="0.5" fill="#3a3a3a"/>
<circle cx="37.1" cy="104.4" r="0.5" fill="#3a3a3a"/>
<circle cx="50.4" cy="100.5" r="0.5" fill="#3a3a3a"/>
<circle cx="53.7" cy="106.8" r="0.5" fill="#3a3a3a"/>
<circle cx="56.9" cy="103.8" r="0.5" fill="#3a3a3a"/>
<circle cx="39.7" cy="102.2" r="0.5" fill="#3a3a3a"/>
<circle cx="47.3" cy="111.5" r="0.5" fill="#3a3a3a"/>
<circle cx="64.2" cy="106.0" r="0.5" fill="#3a3a3a"/>
<circle cx="52.1" cy="107.1" r="0.5" fill="#3a3a3a"/>
<circle cx="56.7" cy="109.2" r="0.5" fill="#3a3a3a"/>
<circle cx="57.1" cy="94.9" r="0.5" fill="#3a3a3a"/>
<circle cx="58.0" cy="104.3" r="0.5" fill="#3a3a3a"/>
<circle cx="43.9" cy="108.2" r="0.5" fill="#3a3a3a"/>
<circle cx="51.4" cy="103.6" r="0.5" fill="#3a3a3a"/>
<circle cx="31.6" cy="108.8" r="0.5" fill="#3a3a3a"/>
<circle cx="54.1" cy="103.0" r="0.5" fill="#3a3a3a"/>
<circle cx="32.6" cy="110.3" r="0.5" fill="#3a3a3a"/>
<circle cx="55.7" cy="103.8" r="0.5" fill="#3a3a3a"/>
<circle cx="52.8" cy="101.8" r="0.5" fill="#3a3a3a"/>
<circle cx="41.9" cy="108.6" r="0.5" fill="#3a3a3a"/>
<circle cx="45.0" cy="106.2" r="0.5" fill="#3a3a3a"/>
<circle cx="81.1" cy="100.9" r="0.5" fill="#3a3a3a"/>
<circle cx="49.9" cy="96.0" r="0.5" fill="#3a3a3a"/>
<circle cx="49.5" cy="108.1" r="0.5" fill="#3a3a3a"/>
<circle cx="41.5" cy="104.8" r="0.5" fill="#3a3a3a"/>
<circle cx="26.0" cy="112.3" r="0.5" fill="#3a3a3a"/>
<circle cx="42.5" cy="109.3" r="0.5" fill="#3a3a3a"/>
<circle cx="62.1" cy="100.7" r="0.5" fill="#3a3a3a"/>
<circle cx="58.3" cy="103.6" r="0.5" fill="#3a3a3a"/>
<circle cx="46.5" cy="103.5" r="0.5" fill="#3a3a3a"/>
<circle cx="40.0" cy="112.8" r="0.5" fill="#3a3a3a"/>
<circle cx="57.3" cy="97.5" r="0.5" fill="#3a3a3a"/>
<circle cx="56.9" cy="99.0" r="0.5" fill="#3a3a3a"/>
<circle cx="33.4" cy="113.9" r="0.5" fill="#3a3a3a"/>
<circle cx="35.7" cy="113.3" r="0.5" fill="#3a3a3a"/>
<circle cx="50.5" cy="108.6" r="0.5" fill="#3a3a3a"/>
<circle cx="53.6" cy="109.2" r="0.5" fill="#3a3a3a"/>
<circle cx="52.0" cy="106.7" r="0.5" fill="#3a3a3a"/>
<circle cx="51.0" cy="109.5" r="0.5" fill="#3a3a3a"/>
<circle cx="44.6" cy="110.5" r="0.5" fill="#3a3a3a"/>
<circle cx="63.6" cy="100.9" r="0.5" fill="#3a3a3a"/>
<circle cx="52.9" cy="100.9" r="0.5" fill="#3a3a3a"/>
<circle cx="45.6" cy="106.4" r="0.5" fill="#3a3a3a"/>
<circle cx="45.1" cy="100.8" r="0.5" fill="#3a3a3a"/>
<circle cx="48.2" cy="105.5" r="0.5" fill="#3a3a3a"/>
<circle cx="51.7" cy="107.4" r="0.5" fill="#3a3a3a"/>
<circle cx="30.8" cy="115.5" r="0.5" fill="#3a3a3a"/>
<circle cx="46.8" cy="101.0" r="0.5" fill="#3a3a3a"/>
<circle cx="44.8" cy="107.5" r="0.5" fill="#3a3a3a"/>
<circle cx="57.2" cy="100.7" r="0.5" fill="#3a3a3a"/>
<circle cx="50.1" cy="96.1" r="0.5" fill="#3a3a3a"/>
<circle cx="50.2" cy="103.6" r="0.5" fill="#3a3a3a"/>
<circle cx="44.2" cy="109.9" r="0.5" fill="#3a3a3a"/>
<circle cx="66.4" cy="105.8" r="0.5" fill="#3a3a3a"/>
<circle cx="40.7" cy="113.9" r="0.5" fill="#3a3a3a"/>
<circle cx="45.2" cy="105.0" r="0.5" fill="#3a3a3a"/>
<circle cx="42.7" cy="108.1" r="0.5" fill="#3a3a3a"/>
<circle cx="54.0" cy="104.0" r="0.5" fill="#3a3a3a"/>
<circle cx="46.4" cy="104.2" r="0.5" fill="#3a3a3a"/>
<circle cx="44.5" cy="110.3" r="0.5" fill="#3a3a3a"/>
<circle cx="43.3" cy="104.9" r="0.5" fill="#3a3a3a"/>
<circle cx="46.4" cy="101.2" r="0.5" fill="#3a3a3a"/>
<circle cx="46.2" cy="97.6" r="0.5" fill="#3a3a3a"/>
<circle cx="52.6" cy="106.3" r="0.5" fill="#3a3a3a"/>
<circle cx="45.5" cy="113.0" r="0.5" fill="#3a3a3a"/>
<circle cx="40.3" cy="109.1" r="0.5" fill="#3a3a3a"/>
<circle cx="53.3" cy="100.8" r="0.5" fill="#3a3a3a"/>
<circle cx="46.1" cy="109.5" r="0.5" fill="#3a3a3a"/>
<circle cx="49.1" cy="105.8" r="0.5" fill="#3a3a3a"/>
<circle cx="62.4" cy="102.5" r="0.5" fill="#3a3a3a"/>
<circle cx="31.8" cy="104.5" r="0.5" fill="#3a3a3a"/>
<circle cx="56.8" cy="102.0" r="0.5" fill="#3a3a3a"/>
<circle cx="37.8" cy="96.9" r="0.5" fill="#3a3a3a"/>
<circle cx="51.7" cy="111.3" r="0.5" fill="#3a3a3a"/>
<circle cx="36.0" cy="96.4" r="0.5" fill="#3a3a3a"/>
<circle cx="53.5" cy="100.7" r="0.5" fill="#3a3a3a"/>
<circle cx="45.6" cy="103.5" r="0.5" fill="#3a3a3a"/>
<circle cx="39.5" cy="108.7" r="0.5" fill="#3a3a3a"/>
<circle cx="57.6" cy="104.3" r="0.5" fill="#3a3a3a"/>
<circle cx="43.0" cy="110.9" r="0.5" fill="#3a3a3a"/>
<circle cx="47.4" cy="107.7" r="0.5" fill="#3a3a3a"/>
<circle cx="39.2" cy="109.8" r="0.5" fill="#3a3a3a"/>
<circle cx="55.9" cy="109.3" r="0.5" fill="#3a3a3a"/>
<circle cx="48.8" cy="106.7" r="0.5" fill="#3a3a3a"/>
<circle cx="42.8" cy="110.2" r="0.5" fill="#3a3a3a"/>
<circle cx="56.2" cy="108.2" r="0.5" fill="#3a3a3a"/>
<circle cx="44.7" cy="99.2" r="0.5" fill="#3a3a3a"/>
<circle cx="47.8" cy="103.6" r="0.5" fill="#3a3a3a"/>
<circle cx="41.1" cy="109.2" r="0.5" fill="#3a3a3a"/>
<circle cx="57.9" cy="104.4" r="0.5" fill="#3a3a3a"/>
<circle cx="59.5" cy="104.1" r="0.5" fill="#3a3a3a"/>
<circle cx="38.8" cy="103.7" r="0.5" fill="#3a3a3a"/>
<circle cx="45.0" cy="108.7" r="0.5" fill="#3a3a3a"/>
<circle cx="57.6" cy="103.2" r="0.5" fill="#3a3a3a"/>
<circle cx="58.5" cy="98.2" r="0.5" fill="#3a3a3a"/>
<circle cx="47.4" cy="112.2" r="0.5" fill="#3a3a3a"/>
<circle cx="52.9" cy="108.8" r="0.5" fill="#3a3a3a"/>
<circle cx="29.9" cy="100.3" r="0.5" fill="#3a3a3a"/>
<circle cx="40.0" cy="111.4" r="0.5" fill="#3a3a3a"/>
<circle cx="64.6" cy="97.9" r="0.5" fill="#3a3a3a"/>
<circle cx="38.8" cy="101.6" r="0.5" fill="#3a3a3a"/>
<circle cx="39.7" cy="109.2" r="0.5" fill="#3a3a3a"/>
<circle cx="45.4" cy="114.5" r="0.5" fill="#3a3a3a"/>
<circle cx="55.6" cy="99.5" r="0.5" fill="#3a3a3a"/>
<circle cx="50.9" cy="103.2" r="0.5" fill="#3a3a3a"/>
<circle cx="56.3" cy="107.3" r="0.5" fill="#3a3a3a"/>
<circle cx="45.1" cy="109.7" r="0.5" fill="#3a3a3a"/>
<circle cx="54.1" cy="102.8" r="0.5" fill="#3a3a3a"/>
<circle cx="51.0" cy="107.3" r="0.5" fill="#3a3a3a"/>
<circle cx="73.2" cy="93.7" r="0.56" fill="#3a3a3a"/>
<circle cx="77.1" cy="96.0" r="0.56" fill="#3a3a3a"/>
<circle cx="72.5" cy="97.6" r="0.56" fill="#3a3a3a"/>
<circle cx="70.4" cy="96.2" r="0.56" fill="#3a3a3a"/>
<circle cx="70.7" cy="94.5" r="0.56" fill="#3a3a3a"/>
<text x="23.8" y="46.6" font-size="8.9" text-anchor="start" font-weight="normal" >25</text>
<text x="115.6" y="46.6" font-size="8.9" text-anchor="end" font-weight="normal" >0.3</text>
<text x="115.6" y="126.2" font-size="8.9" text-anchor="end" font-weight="normal" >1</text>
<rect x="122.1" y="36.6" width="98.1" height="92.30000000000001" fill="#fff" stroke="#2a2a2a" stroke-width="0.9"/>
<line x1="176.9" y1="36.6" x2="176.9" y2="128.9" stroke="#2a2a2a" stroke-width="0.9"/>
<line x1="122.1" y1="92.8" x2="220.2" y2="92.8" stroke="#2a2a2a" stroke-width="0.9"/>
<circle cx="154.4" cy="57.6" r="0.56" fill="#2a2a2a"/>
<circle cx="170.8" cy="62.8" r="0.56" fill="#2a2a2a"/>
<circle cx="157.9" cy="81.3" r="0.56" fill="#2a2a2a"/>
<circle cx="161.5" cy="78.8" r="0.56" fill="#2a2a2a"/>
<circle cx="162.1" cy="50.4" r="0.56" fill="#2a2a2a"/>
<circle cx="176.6" cy="60.4" r="0.56" fill="#2a2a2a"/>
<circle cx="170.0" cy="76.0" r="0.56" fill="#2a2a2a"/>
<circle cx="157.3" cy="65.2" r="0.56" fill="#2a2a2a"/>
<circle cx="161.8" cy="70.4" r="0.56" fill="#2a2a2a"/>
<circle cx="165.3" cy="52.4" r="0.56" fill="#2a2a2a"/>
<circle cx="165.7" cy="71.9" r="0.56" fill="#2a2a2a"/>
<circle cx="163.5" cy="70.0" r="0.56" fill="#2a2a2a"/>
<circle cx="162.1" cy="64.1" r="0.56" fill="#2a2a2a"/>
<circle cx="167.5" cy="65.9" r="0.56" fill="#2a2a2a"/>
<circle cx="173.1" cy="73.7" r="0.56" fill="#2a2a2a"/>
<circle cx="170.5" cy="71.5" r="0.56" fill="#2a2a2a"/>
<circle cx="166.3" cy="53.4" r="0.56" fill="#2a2a2a"/>
<circle cx="171.8" cy="81.3" r="0.56" fill="#2a2a2a"/>
<circle cx="166.7" cy="62.1" r="0.56" fill="#2a2a2a"/>
<circle cx="165.1" cy="76.2" r="0.56" fill="#2a2a2a"/>
<circle cx="167.1" cy="55.1" r="0.56" fill="#2a2a2a"/>
<circle cx="164.3" cy="57.2" r="0.56" fill="#2a2a2a"/>
<circle cx="164.1" cy="56.0" r="0.56" fill="#2a2a2a"/>
<circle cx="160.0" cy="78.8" r="0.56" fill="#2a2a2a"/>
<circle cx="171.7" cy="49.1" r="0.56" fill="#2a2a2a"/>
<circle cx="159.4" cy="60.3" r="0.56" fill="#2a2a2a"/>
<circle cx="163.0" cy="51.3" r="0.56" fill="#2a2a2a"/>
<circle cx="170.7" cy="49.1" r="0.56" fill="#2a2a2a"/>
<circle cx="169.6" cy="71.3" r="0.56" fill="#2a2a2a"/>
<circle cx="163.1" cy="58.3" r="0.56" fill="#2a2a2a"/>
<circle cx="165.7" cy="66.0" r="0.56" fill="#2a2a2a"/>
<circle cx="152.6" cy="52.6" r="0.56" fill="#2a2a2a"/>
<circle cx="168.6" cy="63.5" r="0.56" fill="#2a2a2a"/>
<circle cx="162.8" cy="55.1" r="0.56" fill="#2a2a2a"/>
<circle cx="161.1" cy="57.3" r="0.56" fill="#2a2a2a"/>
<circle cx="182.3" cy="52.6" r="0.56" fill="#2a2a2a"/>
<circle cx="174.6" cy="69.2" r="0.56" fill="#2a2a2a"/>
<circle cx="166.6" cy="66.5" r="0.56" fill="#2a2a2a"/>
<circle cx="163.0" cy="80.0" r="0.56" fill="#2a2a2a"/>
<circle cx="168.4" cy="64.3" r="0.56" fill="#2a2a2a"/>
<circle cx="164.6" cy="66.5" r="0.56" fill="#2a2a2a"/>
<circle cx="158.4" cy="61.5" r="0.56" fill="#2a2a2a"/>
<circle cx="161.6" cy="70.5" r="0.56" fill="#2a2a2a"/>
<circle cx="169.0" cy="46.7" r="0.56" fill="#2a2a2a"/>
<circle cx="164.0" cy="74.1" r="0.56" fill="#2a2a2a"/>
<circle cx="157.5" cy="53.2" r="0.56" fill="#2a2a2a"/>
<circle cx="171.4" cy="63.3" r="0.56" fill="#2a2a2a"/>
<circle cx="162.6" cy="52.9" r="0.56" fill="#2a2a2a"/>
<circle cx="166.4" cy="59.2" r="0.56" fill="#2a2a2a"/>
<circle cx="166.6" cy="68.7" r="0.56" fill="#2a2a2a"/>
<circle cx="169.6" cy="61.5" r="0.56" fill="#2a2a2a"/>
<circle cx="162.2" cy="64.9" r="0.56" fill="#2a2a2a"/>
<circle cx="164.8" cy="66.2" r="0.56" fill="#2a2a2a"/>
<circle cx="162.1" cy="62.3" r="0.56" fill="#2a2a2a"/>
<circle cx="161.8" cy="58.9" r="0.56" fill="#2a2a2a"/>
<circle cx="166.3" cy="75.6" r="0.56" fill="#2a2a2a"/>
<circle cx="162.1" cy="70.2" r="0.56" fill="#2a2a2a"/>
<circle cx="167.4" cy="65.6" r="0.56" fill="#2a2a2a"/>
<circle cx="169.5" cy="59.2" r="0.56" fill="#2a2a2a"/>
<circle cx="168.8" cy="67.4" r="0.56" fill="#2a2a2a"/>
<circle cx="144.2" cy="68.0" r="0.56" fill="#2a2a2a"/>
<circle cx="169.0" cy="83.3" r="0.56" fill="#2a2a2a"/>
<circle cx="158.9" cy="65.5" r="0.56" fill="#2a2a2a"/>
<circle cx="167.5" cy="55.3" r="0.56" fill="#2a2a2a"/>
<circle cx="172.6" cy="68.9" r="0.56" fill="#2a2a2a"/>
<circle cx="160.5" cy="53.1" r="0.56" fill="#2a2a2a"/>
<circle cx="162.8" cy="87.3" r="0.56" fill="#2a2a2a"/>
<circle cx="178.4" cy="40.8" r="0.56" fill="#2a2a2a"/>
<circle cx="154.3" cy="71.0" r="0.56" fill="#2a2a2a"/>
<circle cx="164.7" cy="58.5" r="0.56" fill="#2a2a2a"/>
<circle cx="169.0" cy="65.5" r="0.56" fill="#2a2a2a"/>
<circle cx="167.1" cy="67.1" r="0.56" fill="#2a2a2a"/>
<circle cx="158.7" cy="77.2" r="0.56" fill="#2a2a2a"/>
<circle cx="162.6" cy="75.4" r="0.56" fill="#2a2a2a"/>
<circle cx="169.5" cy="64.9" r="0.56" fill="#2a2a2a"/>
<circle cx="166.2" cy="64.1" r="0.56" fill="#2a2a2a"/>
<circle cx="154.2" cy="61.5" r="0.56" fill="#2a2a2a"/>
<circle cx="168.0" cy="49.1" r="0.56" fill="#2a2a2a"/>
<circle cx="156.3" cy="74.9" r="0.56" fill="#2a2a2a"/>
<circle cx="170.3" cy="49.7" r="0.56" fill="#2a2a2a"/>
<circle cx="168.1" cy="64.1" r="0.56" fill="#2a2a2a"/>
<circle cx="171.3" cy="61.5" r="0.56" fill="#2a2a2a"/>
<circle cx="164.0" cy="57.4" r="0.56" fill="#2a2a2a"/>
<circle cx="166.4" cy="63.4" r="0.56" fill="#2a2a2a"/>
<circle cx="161.4" cy="61.2" r="0.56" fill="#2a2a2a"/>
<circle cx="160.8" cy="70.6" r="0.56" fill="#2a2a2a"/>
<circle cx="159.1" cy="49.6" r="0.56" fill="#2a2a2a"/>
<circle cx="159.5" cy="75.0" r="0.56" fill="#2a2a2a"/>
<circle cx="162.2" cy="70.8" r="0.56" fill="#2a2a2a"/>
<circle cx="169.8" cy="59.7" r="0.56" fill="#2a2a2a"/>
<circle cx="169.9" cy="69.4" r="0.56" fill="#2a2a2a"/>
<circle cx="165.1" cy="57.8" r="0.56" fill="#2a2a2a"/>
<circle cx="165.0" cy="52.2" r="0.56" fill="#2a2a2a"/>
<circle cx="163.7" cy="59.0" r="0.56" fill="#2a2a2a"/>
<circle cx="168.0" cy="67.9" r="0.56" fill="#2a2a2a"/>
<circle cx="161.4" cy="72.9" r="0.56" fill="#2a2a2a"/>
<circle cx="172.6" cy="65.2" r="0.56" fill="#2a2a2a"/>
<circle cx="160.8" cy="69.4" r="0.56" fill="#2a2a2a"/>
<circle cx="150.4" cy="58.9" r="0.56" fill="#2a2a2a"/>
<circle cx="168.9" cy="83.9" r="0.56" fill="#2a2a2a"/>
<circle cx="160.8" cy="79.3" r="0.56" fill="#2a2a2a"/>
<circle cx="179.6" cy="82.8" r="0.56" fill="#2a2a2a"/>
<circle cx="150.9" cy="75.2" r="0.56" fill="#2a2a2a"/>
<circle cx="166.5" cy="74.4" r="0.56" fill="#2a2a2a"/>
<circle cx="164.2" cy="58.6" r="0.56" fill="#2a2a2a"/>
<circle cx="163.9" cy="79.1" r="0.56" fill="#2a2a2a"/>
<circle cx="170.5" cy="61.7" r="0.56" fill="#2a2a2a"/>
<circle cx="167.7" cy="72.9" r="0.56" fill="#2a2a2a"/>
<circle cx="168.8" cy="64.1" r="0.56" fill="#2a2a2a"/>
<circle cx="161.3" cy="57.3" r="0.56" fill="#2a2a2a"/>
<circle cx="162.7" cy="59.2" r="0.56" fill="#2a2a2a"/>
<circle cx="155.6" cy="50.8" r="0.56" fill="#2a2a2a"/>
<circle cx="170.7" cy="53.7" r="0.56" fill="#2a2a2a"/>
<circle cx="157.3" cy="64.1" r="0.56" fill="#2a2a2a"/>
<circle cx="174.2" cy="76.8" r="0.56" fill="#2a2a2a"/>
<circle cx="162.8" cy="54.5" r="0.56" fill="#2a2a2a"/>
<circle cx="162.0" cy="55.7" r="0.56" fill="#2a2a2a"/>
<circle cx="161.9" cy="69.2" r="0.56" fill="#2a2a2a"/>
<circle cx="158.8" cy="56.9" r="0.56" fill="#2a2a2a"/>
<circle cx="163.7" cy="64.3" r="0.56" fill="#2a2a2a"/>
<circle cx="160.6" cy="56.8" r="0.56" fill="#2a2a2a"/>
<circle cx="158.4" cy="57.2" r="0.56" fill="#2a2a2a"/>
<circle cx="168.5" cy="62.2" r="0.56" fill="#2a2a2a"/>
<circle cx="146.2" cy="70.5" r="0.56" fill="#2a2a2a"/>
<circle cx="164.9" cy="56.0" r="0.56" fill="#2a2a2a"/>
<circle cx="155.1" cy="75.9" r="0.56" fill="#2a2a2a"/>
<circle cx="178.5" cy="85.8" r="0.56" fill="#2a2a2a"/>
<circle cx="160.8" cy="64.9" r="0.56" fill="#2a2a2a"/>
<circle cx="170.1" cy="52.5" r="0.56" fill="#2a2a2a"/>
<circle cx="176.1" cy="57.5" r="0.56" fill="#2a2a2a"/>
<circle cx="167.5" cy="53.3" r="0.56" fill="#2a2a2a"/>
<circle cx="167.6" cy="64.4" r="0.56" fill="#2a2a2a"/>
<circle cx="172.0" cy="53.2" r="0.56" fill="#2a2a2a"/>
<circle cx="165.2" cy="82.3" r="0.56" fill="#2a2a2a"/>
<circle cx="157.9" cy="68.0" r="0.56" fill="#2a2a2a"/>
<circle cx="168.0" cy="59.7" r="0.56" fill="#2a2a2a"/>
<circle cx="163.7" cy="78.3" r="0.56" fill="#2a2a2a"/>
<circle cx="172.4" cy="70.1" r="0.56" fill="#2a2a2a"/>
<circle cx="167.0" cy="53.4" r="0.56" fill="#2a2a2a"/>
<circle cx="165.9" cy="82.1" r="0.56" fill="#2a2a2a"/>
<circle cx="171.8" cy="51.2" r="0.56" fill="#2a2a2a"/>
<circle cx="152.5" cy="58.0" r="0.56" fill="#2a2a2a"/>
<circle cx="166.3" cy="59.1" r="0.56" fill="#2a2a2a"/>
<circle cx="163.4" cy="67.9" r="0.56" fill="#2a2a2a"/>
<circle cx="170.9" cy="66.6" r="0.56" fill="#2a2a2a"/>
<circle cx="173.1" cy="50.6" r="0.56" fill="#2a2a2a"/>
<circle cx="168.2" cy="68.7" r="0.56" fill="#2a2a2a"/>
<circle cx="156.1" cy="76.8" r="0.56" fill="#2a2a2a"/>
<circle cx="155.4" cy="50.3" r="0.56" fill="#2a2a2a"/>
<circle cx="181.9" cy="77.2" r="0.56" fill="#2a2a2a"/>
<circle cx="167.6" cy="77.8" r="0.56" fill="#2a2a2a"/>
<circle cx="172.4" cy="53.4" r="0.56" fill="#2a2a2a"/>
<circle cx="168.3" cy="78.3" r="0.56" fill="#2a2a2a"/>
<circle cx="164.3" cy="65.2" r="0.56" fill="#2a2a2a"/>
<circle cx="162.4" cy="71.7" r="0.56" fill="#2a2a2a"/>
<circle cx="161.9" cy="58.7" r="0.56" fill="#2a2a2a"/>
<circle cx="157.7" cy="55.4" r="0.56" fill="#2a2a2a"/>
<circle cx="166.7" cy="69.2" r="0.56" fill="#2a2a2a"/>
<circle cx="162.9" cy="54.2" r="0.56" fill="#2a2a2a"/>
<circle cx="167.4" cy="68.0" r="0.56" fill="#2a2a2a"/>
<circle cx="173.2" cy="59.6" r="0.56" fill="#2a2a2a"/>
<circle cx="162.7" cy="69.6" r="0.56" fill="#2a2a2a"/>
<circle cx="174.8" cy="64.0" r="0.56" fill="#2a2a2a"/>
<circle cx="164.8" cy="55.3" r="0.56" fill="#2a2a2a"/>
<circle cx="163.0" cy="73.8" r="0.56" fill="#2a2a2a"/>
<circle cx="170.6" cy="75.5" r="0.56" fill="#2a2a2a"/>
<circle cx="155.1" cy="72.8" r="0.56" fill="#2a2a2a"/>
<circle cx="159.5" cy="70.4" r="0.56" fill="#2a2a2a"/>
<circle cx="150.5" cy="63.5" r="0.56" fill="#2a2a2a"/>
<circle cx="159.8" cy="77.1" r="0.56" fill="#2a2a2a"/>
<circle cx="166.1" cy="77.3" r="0.56" fill="#2a2a2a"/>
<circle cx="162.6" cy="83.9" r="0.56" fill="#2a2a2a"/>
<circle cx="162.5" cy="83.2" r="0.56" fill="#2a2a2a"/>
<circle cx="162.3" cy="54.8" r="0.56" fill="#2a2a2a"/>
<circle cx="170.9" cy="60.6" r="0.56" fill="#2a2a2a"/>
<circle cx="164.9" cy="51.2" r="0.56" fill="#2a2a2a"/>
<circle cx="163.2" cy="65.6" r="0.56" fill="#2a2a2a"/>
<circle cx="160.9" cy="68.4" r="0.56" fill="#2a2a2a"/>
<circle cx="150.9" cy="73.3" r="0.56" fill="#2a2a2a"/>
<circle cx="162.8" cy="79.1" r="0.56" fill="#2a2a2a"/>
<circle cx="163.1" cy="58.0" r="0.56" fill="#2a2a2a"/>
<circle cx="162.5" cy="67.3" r="0.56" fill="#2a2a2a"/>
<circle cx="169.0" cy="59.9" r="0.56" fill="#2a2a2a"/>
<circle cx="160.3" cy="68.8" r="0.56" fill="#2a2a2a"/>
<circle cx="170.5" cy="47.2" r="0.56" fill="#2a2a2a"/>
<circle cx="158.7" cy="57.9" r="0.56" fill="#2a2a2a"/>
<circle cx="176.0" cy="76.7" r="0.56" fill="#2a2a2a"/>
<circle cx="170.3" cy="69.4" r="0.56" fill="#2a2a2a"/>
<circle cx="158.3" cy="75.6" r="0.56" fill="#2a2a2a"/>
<circle cx="162.5" cy="56.6" r="0.56" fill="#2a2a2a"/>
<circle cx="177.4" cy="50.2" r="0.56" fill="#2a2a2a"/>
<circle cx="174.0" cy="66.5" r="0.56" fill="#2a2a2a"/>
<circle cx="159.5" cy="66.3" r="0.56" fill="#2a2a2a"/>
<circle cx="160.0" cy="66.4" r="0.56" fill="#2a2a2a"/>
<circle cx="161.3" cy="52.8" r="0.56" fill="#2a2a2a"/>
<circle cx="182.0" cy="59.5" r="0.56" fill="#2a2a2a"/>
<circle cx="171.5" cy="64.0" r="0.56" fill="#2a2a2a"/>
<circle cx="169.6" cy="52.0" r="0.56" fill="#2a2a2a"/>
<circle cx="171.6" cy="68.9" r="0.56" fill="#2a2a2a"/>
<circle cx="157.9" cy="72.8" r="0.56" fill="#2a2a2a"/>
<circle cx="169.0" cy="93.6" r="0.56" fill="#2a2a2a"/>
<circle cx="166.8" cy="73.6" r="0.56" fill="#2a2a2a"/>
<circle cx="169.2" cy="72.2" r="0.56" fill="#2a2a2a"/>
<circle cx="165.2" cy="60.4" r="0.56" fill="#2a2a2a"/>
<circle cx="169.8" cy="76.8" r="0.56" fill="#2a2a2a"/>
<circle cx="158.0" cy="53.2" r="0.56" fill="#2a2a2a"/>
<circle cx="165.1" cy="82.4" r="0.56" fill="#2a2a2a"/>
<circle cx="164.0" cy="47.7" r="0.56" fill="#2a2a2a"/>
<circle cx="170.4" cy="72.0" r="0.56" fill="#2a2a2a"/>
<circle cx="177.5" cy="66.4" r="0.56" fill="#2a2a2a"/>
<circle cx="177.7" cy="57.4" r="0.56" fill="#2a2a2a"/>
<circle cx="171.0" cy="65.9" r="0.56" fill="#2a2a2a"/>
<circle cx="157.8" cy="61.8" r="0.56" fill="#2a2a2a"/>
<circle cx="173.7" cy="75.6" r="0.56" fill="#2a2a2a"/>
<circle cx="163.0" cy="75.6" r="0.56" fill="#2a2a2a"/>
<circle cx="171.0" cy="73.5" r="0.56" fill="#2a2a2a"/>
<circle cx="167.1" cy="67.6" r="0.56" fill="#2a2a2a"/>
<circle cx="160.1" cy="63.9" r="0.56" fill="#2a2a2a"/>
<circle cx="166.1" cy="57.2" r="0.56" fill="#2a2a2a"/>
<circle cx="163.5" cy="66.2" r="0.56" fill="#2a2a2a"/>
<circle cx="166.7" cy="75.0" r="0.56" fill="#2a2a2a"/>
<circle cx="158.9" cy="60.6" r="0.56" fill="#2a2a2a"/>
<circle cx="167.0" cy="60.8" r="0.56" fill="#2a2a2a"/>
<circle cx="167.4" cy="59.9" r="0.56" fill="#2a2a2a"/>
<circle cx="172.7" cy="62.3" r="0.56" fill="#2a2a2a"/>
<circle cx="158.2" cy="72.0" r="0.56" fill="#2a2a2a"/>
<circle cx="175.8" cy="45.4" r="0.56" fill="#2a2a2a"/>
<circle cx="164.5" cy="65.2" r="0.56" fill="#2a2a2a"/>
<circle cx="171.8" cy="79.4" r="0.56" fill="#2a2a2a"/>
<circle cx="164.3" cy="49.1" r="0.56" fill="#2a2a2a"/>
<circle cx="169.5" cy="74.5" r="0.56" fill="#2a2a2a"/>
<circle cx="168.2" cy="65.3" r="0.56" fill="#2a2a2a"/>
<circle cx="160.2" cy="88.7" r="0.56" fill="#2a2a2a"/>
<circle cx="157.8" cy="49.6" r="0.56" fill="#2a2a2a"/>
<circle cx="171.5" cy="67.4" r="0.56" fill="#2a2a2a"/>
<circle cx="168.7" cy="93.2" r="0.56" fill="#3a3a3a"/>
<circle cx="172.8" cy="99.7" r="0.56" fill="#3a3a3a"/>
<circle cx="163.8" cy="97.1" r="0.56" fill="#3a3a3a"/>
<circle cx="161.3" cy="80.7" r="0.56" fill="#3a3a3a"/>
<circle cx="170.9" cy="88.4" r="0.56" fill="#3a3a3a"/>
<circle cx="157.3" cy="90.9" r="0.56" fill="#3a3a3a"/>
<circle cx="163.3" cy="94.1" r="0.56" fill="#3a3a3a"/>
<circle cx="165.8" cy="86.4" r="0.56" fill="#3a3a3a"/>
<circle cx="163.1" cy="95.7" r="0.56" fill="#3a3a3a"/>
<circle cx="162.3" cy="91.8" r="0.56" fill="#3a3a3a"/>
<circle cx="162.0" cy="93.8" r="0.56" fill="#3a3a3a"/>
<circle cx="173.2" cy="94.5" r="0.56" fill="#3a3a3a"/>
<circle cx="170.5" cy="93.8" r="0.56" fill="#3a3a3a"/>
<circle cx="162.1" cy="89.2" r="0.56" fill="#3a3a3a"/>
<circle cx="166.3" cy="93.7" r="0.56" fill="#3a3a3a"/>
<circle cx="163.6" cy="94.8" r="0.56" fill="#3a3a3a"/>
<circle cx="163.1" cy="91.4" r="0.56" fill="#3a3a3a"/>
<circle cx="166.0" cy="84.1" r="0.56" fill="#3a3a3a"/>
<circle cx="170.1" cy="91.3" r="0.56" fill="#3a3a3a"/>
<circle cx="166.5" cy="90.8" r="0.56" fill="#3a3a3a"/>
<circle cx="157.5" cy="82.5" r="0.56" fill="#3a3a3a"/>
<circle cx="162.4" cy="97.1" r="0.56" fill="#3a3a3a"/>
<circle cx="163.7" cy="94.7" r="0.56" fill="#3a3a3a"/>
<circle cx="161.9" cy="85.9" r="0.56" fill="#3a3a3a"/>
<circle cx="164.1" cy="97.5" r="0.56" fill="#3a3a3a"/>
<circle cx="159.3" cy="90.0" r="0.56" fill="#3a3a3a"/>
<circle cx="167.7" cy="91.9" r="0.56" fill="#3a3a3a"/>
<circle cx="166.0" cy="95.8" r="0.56" fill="#3a3a3a"/>
<circle cx="167.2" cy="84.9" r="0.56" fill="#3a3a3a"/>
<circle cx="168.6" cy="86.3" r="0.56" fill="#3a3a3a"/>
<circle cx="164.7" cy="99.8" r="0.56" fill="#3a3a3a"/>
<circle cx="175.9" cy="99.8" r="0.56" fill="#3a3a3a"/>
<circle cx="167.7" cy="86.3" r="0.56" fill="#3a3a3a"/>
<circle cx="163.0" cy="101.1" r="0.56" fill="#3a3a3a"/>
<circle cx="167.4" cy="82.6" r="0.56" fill="#3a3a3a"/>
<circle cx="171.4" cy="104.2" r="0.56" fill="#222"/>
<circle cx="169.5" cy="104.3" r="0.56" fill="#222"/>
<circle cx="143.2" cy="109.9" r="0.56" fill="#222"/>
<circle cx="158.5" cy="106.4" r="0.56" fill="#222"/>
<circle cx="171.0" cy="100.5" r="0.56" fill="#222"/>
<circle cx="158.8" cy="106.6" r="0.56" fill="#222"/>
<circle cx="158.9" cy="103.6" r="0.56" fill="#222"/>
<circle cx="150.3" cy="101.8" r="0.56" fill="#222"/>
<circle cx="162.1" cy="105.0" r="0.56" fill="#222"/>
<circle cx="161.1" cy="102.7" r="0.56" fill="#222"/>
<circle cx="159.6" cy="103.5" r="0.56" fill="#222"/>
<circle cx="151.9" cy="110.2" r="0.56" fill="#222"/>
<circle cx="164.4" cy="106.6" r="0.56" fill="#222"/>
<circle cx="159.2" cy="105.4" r="0.56" fill="#222"/>
<circle cx="170.1" cy="106.7" r="0.56" fill="#222"/>
<circle cx="154.8" cy="104.8" r="0.56" fill="#222"/>
<circle cx="162.4" cy="106.5" r="0.56" fill="#222"/>
<circle cx="152.6" cy="115.9" r="0.56" fill="#222"/>
<circle cx="143.7" cy="109.4" r="0.56" fill="#222"/>
<circle cx="161.4" cy="108.9" r="0.56" fill="#222"/>
<circle cx="145.5" cy="110.0" r="0.56" fill="#222"/>
<circle cx="170.4" cy="107.0" r="0.56" fill="#222"/>
<circle cx="157.6" cy="107.3" r="0.56" fill="#222"/>
<circle cx="152.9" cy="110.0" r="0.56" fill="#222"/>
<circle cx="151.6" cy="103.0" r="0.56" fill="#222"/>
<circle cx="148.0" cy="110.7" r="0.56" fill="#222"/>
<circle cx="149.6" cy="113.4" r="0.56" fill="#222"/>
<circle cx="169.2" cy="106.2" r="0.56" fill="#222"/>
<circle cx="164.5" cy="108.3" r="0.56" fill="#222"/>
<circle cx="161.5" cy="108.5" r="0.56" fill="#222"/>
<circle cx="163.1" cy="107.7" r="0.56" fill="#222"/>
<circle cx="151.9" cy="107.1" r="0.56" fill="#222"/>
<circle cx="152.0" cy="111.7" r="0.56" fill="#222"/>
<circle cx="163.4" cy="102.8" r="0.56" fill="#222"/>
<circle cx="152.1" cy="107.3" r="0.56" fill="#222"/>
<circle cx="166.1" cy="103.9" r="0.56" fill="#222"/>
<circle cx="157.7" cy="105.0" r="0.56" fill="#222"/>
<circle cx="158.6" cy="111.7" r="0.56" fill="#222"/>
<circle cx="154.3" cy="107.2" r="0.56" fill="#222"/>
<circle cx="172.4" cy="104.3" r="0.56" fill="#222"/>
<circle cx="150.9" cy="112.8" r="0.56" fill="#222"/>
<circle cx="150.0" cy="111.5" r="0.56" fill="#222"/>
<circle cx="140.5" cy="110.1" r="0.56" fill="#222"/>
<circle cx="166.5" cy="102.3" r="0.56" fill="#222"/>
<circle cx="154.1" cy="108.6" r="0.56" fill="#222"/>
<circle cx="159.6" cy="105.1" r="0.56" fill="#222"/>
<circle cx="154.4" cy="113.8" r="0.56" fill="#222"/>
<circle cx="170.8" cy="103.6" r="0.56" fill="#222"/>
<circle cx="150.9" cy="107.9" r="0.56" fill="#222"/>
<circle cx="157.4" cy="108.8" r="0.56" fill="#222"/>
<circle cx="171.7" cy="100.7" r="0.56" fill="#222"/>
<circle cx="160.7" cy="104.8" r="0.56" fill="#222"/>
<circle cx="160.6" cy="104.0" r="0.56" fill="#222"/>
<circle cx="162.4" cy="109.1" r="0.56" fill="#222"/>
<circle cx="156.6" cy="106.5" r="0.56" fill="#222"/>
<circle cx="160.4" cy="102.2" r="0.56" fill="#222"/>
<circle cx="173.2" cy="97.7" r="0.56" fill="#222"/>
<circle cx="156.8" cy="104.7" r="0.56" fill="#222"/>
<circle cx="170.9" cy="101.1" r="0.56" fill="#222"/>
<circle cx="155.7" cy="113.6" r="0.56" fill="#222"/>
<circle cx="158.6" cy="104.4" r="0.56" fill="#222"/>
<circle cx="159.5" cy="107.1" r="0.56" fill="#222"/>
<circle cx="153.9" cy="107.9" r="0.56" fill="#222"/>
<circle cx="158.0" cy="109.3" r="0.56" fill="#222"/>
<circle cx="165.4" cy="107.0" r="0.56" fill="#222"/>
<circle cx="158.6" cy="109.3" r="0.56" fill="#222"/>
<circle cx="158.0" cy="110.6" r="0.56" fill="#222"/>
<circle cx="162.6" cy="104.1" r="0.56" fill="#222"/>
<circle cx="168.9" cy="98.6" r="0.56" fill="#222"/>
<circle cx="152.2" cy="106.6" r="0.56" fill="#222"/>
<circle cx="158.6" cy="103.1" r="0.56" fill="#222"/>
<circle cx="150.5" cy="103.9" r="0.56" fill="#222"/>
<circle cx="160.4" cy="103.9" r="0.56" fill="#222"/>
<circle cx="176.1" cy="103.1" r="0.56" fill="#222"/>
<circle cx="150.9" cy="113.5" r="0.56" fill="#222"/>
<circle cx="160.4" cy="109.5" r="0.56" fill="#222"/>
<circle cx="151.2" cy="113.0" r="0.56" fill="#222"/>
<circle cx="167.9" cy="102.4" r="0.56" fill="#222"/>
<circle cx="153.1" cy="107.6" r="0.56" fill="#222"/>
<circle cx="161.5" cy="113.2" r="0.56" fill="#222"/>
<circle cx="173.2" cy="106.4" r="0.56" fill="#222"/>
<circle cx="157.9" cy="106.1" r="0.56" fill="#222"/>
<circle cx="162.3" cy="104.7" r="0.56" fill="#222"/>
<circle cx="156.0" cy="107.1" r="0.56" fill="#222"/>
<circle cx="165.9" cy="104.1" r="0.56" fill="#222"/>
<circle cx="161.4" cy="105.1" r="0.56" fill="#222"/>
<circle cx="158.1" cy="106.0" r="0.56" fill="#222"/>
<circle cx="169.1" cy="103.9" r="0.56" fill="#222"/>
<circle cx="170.8" cy="102.1" r="0.56" fill="#222"/>
<circle cx="167.6" cy="99.5" r="0.56" fill="#222"/>
<circle cx="156.5" cy="107.4" r="0.56" fill="#222"/>
<circle cx="154.8" cy="107.8" r="0.56" fill="#222"/>
<circle cx="152.6" cy="108.4" r="0.56" fill="#222"/>
<circle cx="154.5" cy="108.2" r="0.56" fill="#222"/>
<circle cx="157.3" cy="104.2" r="0.56" fill="#222"/>
<circle cx="156.5" cy="107.7" r="0.56" fill="#222"/>
<circle cx="150.0" cy="110.1" r="0.56" fill="#222"/>
<circle cx="169.0" cy="102.5" r="0.56" fill="#222"/>
<circle cx="163.7" cy="107.0" r="0.56" fill="#222"/>
<circle cx="153.5" cy="112.6" r="0.56" fill="#222"/>
<circle cx="178.5" cy="96.8" r="0.56" fill="#222"/>
<circle cx="175.7" cy="98.7" r="0.56" fill="#222"/>
<circle cx="170.6" cy="97.2" r="0.56" fill="#222"/>
<circle cx="168.1" cy="104.0" r="0.56" fill="#222"/>
<circle cx="149.9" cy="107.3" r="0.56" fill="#222"/>
<circle cx="151.7" cy="106.5" r="0.56" fill="#222"/>
<circle cx="162.4" cy="105.0" r="0.56" fill="#222"/>
<circle cx="140.6" cy="112.1" r="0.56" fill="#222"/>
<circle cx="163.1" cy="105.6" r="0.56" fill="#222"/>
<circle cx="172.3" cy="96.5" r="0.56" fill="#222"/>
<circle cx="161.4" cy="106.0" r="0.56" fill="#222"/>
<circle cx="165.0" cy="100.5" r="0.56" fill="#222"/>
<circle cx="149.7" cy="109.4" r="0.56" fill="#222"/>
<circle cx="160.1" cy="100.8" r="0.56" fill="#222"/>
<circle cx="162.3" cy="105.5" r="0.56" fill="#222"/>
<circle cx="165.1" cy="96.6" r="0.56" fill="#222"/>
<circle cx="163.3" cy="102.5" r="0.56" fill="#222"/>
<circle cx="156.0" cy="110.1" r="0.56" fill="#222"/>
<circle cx="172.3" cy="102.5" r="0.56" fill="#222"/>
<circle cx="158.7" cy="110.8" r="0.56" fill="#222"/>
<circle cx="152.8" cy="108.4" r="0.56" fill="#222"/>
<circle cx="155.7" cy="104.8" r="0.56" fill="#222"/>
<circle cx="161.0" cy="112.2" r="0.56" fill="#222"/>
<circle cx="161.4" cy="107.4" r="0.56" fill="#222"/>
<circle cx="159.3" cy="110.0" r="0.56" fill="#222"/>
<circle cx="160.9" cy="103.3" r="0.56" fill="#222"/>
<circle cx="160.3" cy="110.6" r="0.56" fill="#222"/>
<circle cx="158.9" cy="110.4" r="0.56" fill="#222"/>
<circle cx="159.0" cy="112.9" r="0.56" fill="#222"/>
<circle cx="161.7" cy="107.8" r="0.56" fill="#222"/>
<circle cx="157.4" cy="109.8" r="0.56" fill="#222"/>
<circle cx="157.8" cy="102.6" r="0.56" fill="#222"/>
<circle cx="161.8" cy="102.0" r="0.56" fill="#222"/>
<circle cx="170.7" cy="105.1" r="0.56" fill="#222"/>
<circle cx="159.7" cy="108.6" r="0.56" fill="#222"/>
<circle cx="140.0" cy="118.0" r="0.56" fill="#222"/>
<circle cx="154.7" cy="110.3" r="0.56" fill="#222"/>
<circle cx="178.9" cy="94.9" r="0.56" fill="#222"/>
<circle cx="156.4" cy="108.6" r="0.56" fill="#222"/>
<circle cx="162.7" cy="100.2" r="0.56" fill="#222"/>
<circle cx="152.5" cy="113.5" r="0.56" fill="#222"/>
<circle cx="155.0" cy="109.8" r="0.56" fill="#222"/>
<circle cx="149.2" cy="107.3" r="0.56" fill="#222"/>
<circle cx="145.8" cy="112.1" r="0.56" fill="#222"/>
<circle cx="168.3" cy="103.8" r="0.56" fill="#222"/>
<circle cx="157.5" cy="108.0" r="0.56" fill="#222"/>
<circle cx="163.1" cy="104.4" r="0.56" fill="#222"/>
<circle cx="163.7" cy="111.0" r="0.56" fill="#222"/>
<circle cx="176.3" cy="98.9" r="0.56" fill="#222"/>
<circle cx="150.0" cy="115.7" r="0.56" fill="#222"/>
<circle cx="167.0" cy="107.7" r="0.56" fill="#222"/>
<circle cx="164.1" cy="104.2" r="0.56" fill="#222"/>
<circle cx="166.9" cy="107.4" r="0.56" fill="#222"/>
<circle cx="168.4" cy="100.1" r="0.56" fill="#222"/>
<circle cx="167.3" cy="102.7" r="0.56" fill="#222"/>
<circle cx="156.9" cy="108.5" r="0.56" fill="#222"/>
<circle cx="156.9" cy="114.5" r="0.56" fill="#222"/>
<circle cx="163.8" cy="105.8" r="0.56" fill="#222"/>
<circle cx="158.1" cy="107.8" r="0.56" fill="#222"/>
<circle cx="157.8" cy="108.9" r="0.56" fill="#222"/>
<circle cx="169.9" cy="103.6" r="0.56" fill="#3a3a3a"/>
<circle cx="150.7" cy="102.2" r="0.56" fill="#3a3a3a"/>
<circle cx="162.8" cy="94.1" r="0.56" fill="#3a3a3a"/>
<circle cx="165.5" cy="99.3" r="0.56" fill="#3a3a3a"/>
<circle cx="162.6" cy="103.0" r="0.56" fill="#3a3a3a"/>
<circle cx="156.4" cy="111.1" r="0.56" fill="#3a3a3a"/>
<circle cx="171.5" cy="95.5" r="0.56" fill="#3a3a3a"/>
<circle cx="166.3" cy="104.0" r="0.56" fill="#3a3a3a"/>
<circle cx="155.2" cy="100.9" r="0.56" fill="#3a3a3a"/>
<circle cx="168.4" cy="85.1" r="0.56" fill="#3a3a3a"/>
<circle cx="150.2" cy="106.0" r="0.56" fill="#3a3a3a"/>
<circle cx="167.7" cy="94.4" r="0.56" fill="#3a3a3a"/>
<circle cx="169.9" cy="111.2" r="0.56" fill="#3a3a3a"/>
<circle cx="164.0" cy="100.3" r="0.56" fill="#3a3a3a"/>
<circle cx="162.7" cy="95.3" r="0.56" fill="#3a3a3a"/>
<circle cx="167.1" cy="100.7" r="0.56" fill="#3a3a3a"/>
<circle cx="168.8" cy="107.1" r="0.56" fill="#3a3a3a"/>
<circle cx="162.4" cy="101.9" r="0.56" fill="#3a3a3a"/>
<circle cx="165.0" cy="109.9" r="0.56" fill="#3a3a3a"/>
<circle cx="148.9" cy="104.5" r="0.56" fill="#3a3a3a"/>
<circle cx="156.4" cy="103.2" r="0.56" fill="#3a3a3a"/>
<circle cx="169.6" cy="99.4" r="0.56" fill="#3a3a3a"/>
<circle cx="168.8" cy="100.3" r="0.56" fill="#3a3a3a"/>
<circle cx="155.7" cy="99.1" r="0.56" fill="#3a3a3a"/>
<circle cx="149.6" cy="105.6" r="0.56" fill="#3a3a3a"/>
<circle cx="158.5" cy="106.6" r="0.56" fill="#3a3a3a"/>
<circle cx="170.8" cy="93.8" r="0.56" fill="#3a3a3a"/>
<circle cx="152.3" cy="107.0" r="0.56" fill="#3a3a3a"/>
<circle cx="154.2" cy="104.3" r="0.56" fill="#3a3a3a"/>
<circle cx="167.6" cy="97.4" r="0.56" fill="#3a3a3a"/>
<circle cx="178.2" cy="92.5" r="0.56" fill="#3a3a3a"/>
<circle cx="166.0" cy="97.7" r="0.56" fill="#3a3a3a"/>
<circle cx="136.0" cy="107.0" r="0.56" fill="#3a3a3a"/>
<circle cx="160.7" cy="104.6" r="0.56" fill="#3a3a3a"/>
<circle cx="160.9" cy="97.3" r="0.56" fill="#3a3a3a"/>
<circle cx="186.5" cy="65.1" r="0.56" fill="#3a3a3a"/>
<circle cx="195.4" cy="65.4" r="0.56" fill="#3a3a3a"/>
<circle cx="198.8" cy="76.7" r="0.56" fill="#3a3a3a"/>
<circle cx="184.9" cy="78.5" r="0.56" fill="#3a3a3a"/>
<circle cx="183.2" cy="67.1" r="0.56" fill="#3a3a3a"/>
<circle cx="198.2" cy="68.1" r="0.56" fill="#3a3a3a"/>
<circle cx="188.9" cy="81.0" r="0.56" fill="#3a3a3a"/>
<circle cx="184.7" cy="59.8" r="0.56" fill="#3a3a3a"/>
<circle cx="196.9" cy="74.3" r="0.56" fill="#3a3a3a"/>
<circle cx="180.0" cy="69.6" r="0.56" fill="#3a3a3a"/>
<circle cx="195.6" cy="66.5" r="0.56" fill="#3a3a3a"/>
<circle cx="187.2" cy="69.5" r="0.56" fill="#3a3a3a"/>
<circle cx="191.6" cy="61.0" r="0.56" fill="#3a3a3a"/>
<circle cx="196.0" cy="52.3" r="0.56" fill="#3a3a3a"/>
<circle cx="189.6" cy="89.6" r="0.56" fill="#3a3a3a"/>
<circle cx="182.6" cy="67.7" r="0.56" fill="#3a3a3a"/>
<circle cx="182.0" cy="68.7" r="0.56" fill="#3a3a3a"/>
<circle cx="186.6" cy="86.6" r="0.56" fill="#3a3a3a"/>
<circle cx="183.6" cy="67.8" r="0.56" fill="#3a3a3a"/>
<circle cx="191.6" cy="74.6" r="0.56" fill="#3a3a3a"/>
<circle cx="196.4" cy="52.4" r="0.56" fill="#3a3a3a"/>
<circle cx="205.5" cy="65.0" r="0.56" fill="#3a3a3a"/>
<circle cx="185.0" cy="51.6" r="0.56" fill="#3a3a3a"/>
<circle cx="187.0" cy="50.3" r="0.56" fill="#3a3a3a"/>
<circle cx="191.4" cy="62.1" r="0.56" fill="#3a3a3a"/>
<circle cx="192.4" cy="60.2" r="0.56" fill="#3a3a3a"/>
<circle cx="190.6" cy="90.4" r="0.56" fill="#3a3a3a"/>
<circle cx="198.3" cy="69.7" r="0.56" fill="#3a3a3a"/>
<circle cx="183.1" cy="82.8" r="0.56" fill="#3a3a3a"/>
<circle cx="178.2" cy="53.9" r="0.56" fill="#3a3a3a"/>
<circle cx="199.2" cy="62.1" r="0.56" fill="#3a3a3a"/>
<circle cx="199.5" cy="73.8" r="0.56" fill="#3a3a3a"/>
<circle cx="205.4" cy="86.0" r="0.56" fill="#3a3a3a"/>
<circle cx="194.2" cy="61.8" r="0.56" fill="#3a3a3a"/>
<circle cx="194.2" cy="82.2" r="0.56" fill="#3a3a3a"/>
<circle cx="187.4" cy="64.4" r="0.56" fill="#3a3a3a"/>
<circle cx="189.6" cy="64.6" r="0.56" fill="#3a3a3a"/>
<circle cx="198.1" cy="55.4" r="0.56" fill="#3a3a3a"/>
<circle cx="193.1" cy="48.2" r="0.56" fill="#3a3a3a"/>
<circle cx="184.8" cy="59.1" r="0.56" fill="#3a3a3a"/>
<circle cx="185.1" cy="74.2" r="0.56" fill="#3a3a3a"/>
<circle cx="194.1" cy="68.8" r="0.56" fill="#3a3a3a"/>
<circle cx="191.4" cy="61.1" r="0.56" fill="#3a3a3a"/>
<circle cx="183.1" cy="53.8" r="0.56" fill="#3a3a3a"/>
<circle cx="187.1" cy="56.7" r="0.56" fill="#3a3a3a"/>
<circle cx="187.7" cy="75.3" r="0.56" fill="#3a3a3a"/>
<circle cx="193.9" cy="81.3" r="0.56" fill="#3a3a3a"/>
<circle cx="183.5" cy="46.0" r="0.56" fill="#3a3a3a"/>
<circle cx="187.3" cy="116.0" r="0.56" fill="#3a3a3a"/>
<circle cx="198.2" cy="101.4" r="0.56" fill="#3a3a3a"/>
<circle cx="202.0" cy="101.5" r="0.56" fill="#3a3a3a"/>
<circle cx="204.1" cy="101.6" r="0.56" fill="#3a3a3a"/>
<circle cx="191.6" cy="108.2" r="0.56" fill="#3a3a3a"/>
<circle cx="187.1" cy="103.0" r="0.56" fill="#3a3a3a"/>
<circle cx="205.7" cy="106.6" r="0.56" fill="#3a3a3a"/>
<circle cx="187.4" cy="102.5" r="0.56" fill="#3a3a3a"/>
<circle cx="193.8" cy="99.5" r="0.56" fill="#3a3a3a"/>
<circle cx="196.5" cy="111.5" r="0.56" fill="#3a3a3a"/>
<circle cx="194.3" cy="109.3" r="0.56" fill="#3a3a3a"/>
<circle cx="195.8" cy="104.8" r="0.56" fill="#3a3a3a"/>
<circle cx="189.5" cy="109.8" r="0.56" fill="#3a3a3a"/>
<circle cx="202.1" cy="101.3" r="0.56" fill="#3a3a3a"/>
<circle cx="188.7" cy="107.1" r="0.56" fill="#3a3a3a"/>
<circle cx="194.6" cy="110.8" r="0.56" fill="#3a3a3a"/>
<circle cx="197.0" cy="103.2" r="0.56" fill="#3a3a3a"/>
<circle cx="185.7" cy="107.7" r="0.56" fill="#3a3a3a"/>
<circle cx="194.6" cy="96.4" r="0.56" fill="#3a3a3a"/>
<circle cx="197.7" cy="101.4" r="0.56" fill="#3a3a3a"/>
<circle cx="190.2" cy="103.3" r="0.56" fill="#3a3a3a"/>
<circle cx="194.2" cy="102.0" r="0.56" fill="#3a3a3a"/>
<circle cx="198.5" cy="110.2" r="0.56" fill="#3a3a3a"/>
<circle cx="192.6" cy="113.5" r="0.56" fill="#3a3a3a"/>
<circle cx="193.2" cy="98.8" r="0.56" fill="#3a3a3a"/>
<circle cx="194.9" cy="95.4" r="0.56" fill="#3a3a3a"/>
<circle cx="192.2" cy="97.6" r="0.56" fill="#3a3a3a"/>
<circle cx="191.4" cy="105.2" r="0.56" fill="#3a3a3a"/>
<circle cx="179.3" cy="106.3" r="0.56" fill="#3a3a3a"/>
<circle cx="195.6" cy="102.7" r="0.56" fill="#3a3a3a"/>
<circle cx="198.3" cy="106.1" r="0.56" fill="#3a3a3a"/>
<circle cx="191.8" cy="98.0" r="0.56" fill="#3a3a3a"/>
<circle cx="198.4" cy="108.5" r="0.56" fill="#3a3a3a"/>
<circle cx="185.1" cy="99.6" r="0.56" fill="#3a3a3a"/>
<circle cx="186.9" cy="109.0" r="0.56" fill="#3a3a3a"/>
<circle cx="190.5" cy="96.5" r="0.56" fill="#3a3a3a"/>
<circle cx="203.0" cy="106.7" r="0.56" fill="#3a3a3a"/>
<circle cx="195.4" cy="105.5" r="0.56" fill="#3a3a3a"/>
<circle cx="192.9" cy="104.2" r="0.56" fill="#3a3a3a"/>
<circle cx="199.4" cy="106.6" r="0.56" fill="#3a3a3a"/>
<circle cx="191.2" cy="104.6" r="0.56" fill="#3a3a3a"/>
<circle cx="205.2" cy="100.6" r="0.56" fill="#3a3a3a"/>
<text x="124.6" y="46.6" font-size="8.9" text-anchor="start" font-weight="normal" >47</text>
<text x="218" y="46.6" font-size="8.9" text-anchor="end" font-weight="normal" >11</text>
<text x="218" y="126.2" font-size="8.9" text-anchor="end" font-weight="normal" >9</text>
<text x="238.8" y="18.8" font-size="11.6" text-anchor="start" font-weight="bold" >B</text>
<text x="282.4" y="8.2" font-size="9.8" text-anchor="start" font-weight="normal" textLength="44.8" lengthAdjust="spacingAndGlyphs" >CD4<tspan font-size="6.4" dy="-3.6">+</tspan><tspan dy="3.6"> IFN<tspan font-size="8.6">&#947;</tspan></tspan></text>
<text transform="translate(252.8,74.3) rotate(-90)" font-size="9.8" text-anchor="middle">% T cells</text>
<line x1="276.75" y1="19.5" x2="276.75" y2="133.6" stroke="#000" stroke-width="1.2"/>
<line x1="276.15" y1="133" x2="322.5" y2="133" stroke="#000" stroke-width="1.2"/>
<line x1="273.84999999999997" y1="133.0" x2="276.75" y2="133.0" stroke="#000" stroke-width="1"/>
<text x="273.65" y="136.25" font-size="9.8" text-anchor="end" font-weight="normal" >0</text>
<line x1="273.84999999999997" y1="121.7" x2="276.75" y2="121.7" stroke="#000" stroke-width="1"/>
<text x="273.65" y="124.95" font-size="9.8" text-anchor="end" font-weight="normal" >10</text>
<line x1="273.84999999999997" y1="110.4" x2="276.75" y2="110.4" stroke="#000" stroke-width="1"/>
<text x="273.65" y="113.65" font-size="9.8" text-anchor="end" font-weight="normal" >20</text>
<line x1="273.84999999999997" y1="99.1" x2="276.75" y2="99.1" stroke="#000" stroke-width="1"/>
<text x="273.65" y="102.35" font-size="9.8" text-anchor="end" font-weight="normal" >30</text>
<line x1="273.84999999999997" y1="87.8" x2="276.75" y2="87.8" stroke="#000" stroke-width="1"/>
<text x="273.65" y="91.05" font-size="9.8" text-anchor="end" font-weight="normal" >40</text>
<line x1="273.84999999999997" y1="76.5" x2="276.75" y2="76.5" stroke="#000" stroke-width="1"/>
<text x="273.65" y="79.75" font-size="9.8" text-anchor="end" font-weight="normal" >50</text>
<line x1="273.84999999999997" y1="65.2" x2="276.75" y2="65.2" stroke="#000" stroke-width="1"/>
<text x="273.65" y="68.45" font-size="9.8" text-anchor="end" font-weight="normal" >60</text>
<line x1="273.84999999999997" y1="53.900000000000006" x2="276.75" y2="53.900000000000006" stroke="#000" stroke-width="1"/>
<text x="273.65" y="57.150000000000006" font-size="9.8" text-anchor="end" font-weight="normal" >70</text>
<line x1="273.84999999999997" y1="42.599999999999994" x2="276.75" y2="42.599999999999994" stroke="#000" stroke-width="1"/>
<text x="273.65" y="45.849999999999994" font-size="9.8" text-anchor="end" font-weight="normal" >80</text>
<line x1="273.84999999999997" y1="31.299999999999997" x2="276.75" y2="31.299999999999997" stroke="#000" stroke-width="1"/>
<text x="273.65" y="34.55" font-size="9.8" text-anchor="end" font-weight="normal" >90</text>
<line x1="273.84999999999997" y1="20.0" x2="276.75" y2="20.0" stroke="#000" stroke-width="1"/>
<text x="273.65" y="23.25" font-size="9.8" text-anchor="end" font-weight="normal" >100</text>
<line x1="288" y1="25.650000000000006" x2="310.8" y2="21.695000000000007" stroke="#000" stroke-width="1"/>
<line x1="288" y1="104.75" x2="310.8" y2="67.46000000000001" stroke="#000" stroke-width="1"/>
<line x1="288" y1="114.92" x2="310.8" y2="55.03" stroke="#000" stroke-width="1"/>
<line x1="288" y1="123.96000000000001" x2="310.8" y2="114.92" stroke="#000" stroke-width="1"/>
<line x1="288" y1="129.271" x2="310.8" y2="99.1" stroke="#000" stroke-width="1"/>
<line x1="288" y1="131.87" x2="310.8" y2="83.28" stroke="#000" stroke-width="1"/>
<circle cx="288" cy="25.650000000000006" r="2.7" fill="#000"/>
<circle cx="310.8" cy="21.695000000000007" r="2.7" fill="#000"/>
<circle cx="288" cy="104.75" r="2.7" fill="#000"/>
<circle cx="310.8" cy="67.46000000000001" r="2.7" fill="#000"/>
<circle cx="288" cy="114.92" r="2.7" fill="#000"/>
<circle cx="310.8" cy="55.03" r="2.7" fill="#000"/>
<circle cx="310.8" cy="114.92" r="2.3" fill="#fff" stroke="#000" stroke-width="1"/>
<circle cx="310.8" cy="99.1" r="2.3" fill="#fff" stroke="#000" stroke-width="1"/>
<circle cx="310.8" cy="83.28" r="2.3" fill="#fff" stroke="#000" stroke-width="1"/>
<circle cx="288" cy="131.87" r="2.3" fill="#fff" stroke="#000" stroke-width="1"/>
<circle cx="288" cy="129.271" r="2.3" fill="#fff" stroke="#000" stroke-width="1"/>
<circle cx="288" cy="123.96000000000001" r="2.3" fill="#fff" stroke="#000" stroke-width="1"/>
<text x="290" y="144.7" font-size="10" text-anchor="middle" font-weight="normal" >pre</text>
<text x="315" y="144.7" font-size="10" text-anchor="middle" font-weight="normal" >post</text>
<line x1="325" y1="24.5" x2="336.5" y2="24.5" stroke="#000" stroke-width="1"/>
<circle cx="330.75" cy="24.5" r="2.7" fill="#000"/>
<text x="338" y="28" font-size="10" text-anchor="start" font-weight="normal" textLength="13.8" lengthAdjust="spacingAndGlyphs" >HR</text>
<line x1="325" y1="38" x2="336.5" y2="38" stroke="#000" stroke-width="1"/>
<circle cx="331" cy="37.8" r="2.5" fill="#fff" stroke="#000" stroke-width="1"/>
<text x="338" y="41.5" font-size="10" text-anchor="start" font-weight="normal" textLength="12.6" lengthAdjust="spacingAndGlyphs" >LR</text>
<text x="365.3" y="19.5" font-size="11.6" text-anchor="start" font-weight="bold" >C</text>
<text x="409.9" y="8.2" font-size="9.8" text-anchor="start" font-weight="normal" textLength="19.5" lengthAdjust="spacingAndGlyphs" >IFN<tspan font-size="8.6">&#947;</tspan></text>
<text transform="translate(378.5,74.3) rotate(-90)" font-size="9.8" text-anchor="middle">% T cells</text>
<line x1="402.9" y1="16.5" x2="402.9" y2="133.6" stroke="#000" stroke-width="1.2"/>
<line x1="402.29999999999995" y1="133" x2="441" y2="133" stroke="#000" stroke-width="1.2"/>
<line x1="399.99999999999994" y1="133.0" x2="402.9" y2="133.0" stroke="#000" stroke-width="1"/>
<text x="399.79999999999995" y="136.25" font-size="9.8" text-anchor="end" font-weight="normal" >0</text>
<line x1="399.99999999999994" y1="121.4" x2="402.9" y2="121.4" stroke="#000" stroke-width="1"/>
<text x="399.79999999999995" y="124.65" font-size="9.8" text-anchor="end" font-weight="normal" >10</text>
<line x1="399.99999999999994" y1="109.8" x2="402.9" y2="109.8" stroke="#000" stroke-width="1"/>
<text x="399.79999999999995" y="113.05" font-size="9.8" text-anchor="end" font-weight="normal" >20</text>
<line x1="399.99999999999994" y1="98.2" x2="402.9" y2="98.2" stroke="#000" stroke-width="1"/>
<text x="399.79999999999995" y="101.45" font-size="9.8" text-anchor="end" font-weight="normal" >30</text>
<line x1="399.99999999999994" y1="86.6" x2="402.9" y2="86.6" stroke="#000" stroke-width="1"/>
<text x="399.79999999999995" y="89.85" font-size="9.8" text-anchor="end" font-weight="normal" >40</text>
<line x1="399.99999999999994" y1="75.0" x2="402.9" y2="75.0" stroke="#000" stroke-width="1"/>
<text x="399.79999999999995" y="78.25" font-size="9.8" text-anchor="end" font-weight="normal" >50</text>
<line x1="399.99999999999994" y1="63.400000000000006" x2="402.9" y2="63.400000000000006" stroke="#000" stroke-width="1"/>
<text x="399.79999999999995" y="66.65" font-size="9.8" text-anchor="end" font-weight="normal" >60</text>
<line x1="399.99999999999994" y1="51.8" x2="402.9" y2="51.8" stroke="#000" stroke-width="1"/>
<text x="399.79999999999995" y="55.05" font-size="9.8" text-anchor="end" font-weight="normal" >70</text>
<line x1="399.99999999999994" y1="40.2" x2="402.9" y2="40.2" stroke="#000" stroke-width="1"/>
<text x="399.79999999999995" y="43.45" font-size="9.8" text-anchor="end" font-weight="normal" >80</text>
<line x1="399.99999999999994" y1="28.599999999999994" x2="402.9" y2="28.599999999999994" stroke="#000" stroke-width="1"/>
<text x="399.79999999999995" y="31.849999999999994" font-size="9.8" text-anchor="end" font-weight="normal" >90</text>
<line x1="399.99999999999994" y1="17.0" x2="402.9" y2="17.0" stroke="#000" stroke-width="1"/>
<text x="399.79999999999995" y="20.25" font-size="9.8" text-anchor="end" font-weight="normal" >100</text>
<line x1="407.325" y1="88.75" x2="407.325" y2="98.25" stroke="#000" stroke-width="1"/>
<line x1="404.625" y1="88.75" x2="410.025" y2="88.75" stroke="#000" stroke-width="1"/>
<rect x="403.4" y="98.75" width="7.850000000000023" height="34.25" fill="#fff" stroke="#000" stroke-width="1"/>
<line x1="417.25" y1="31.25" x2="417.25" y2="45.5" stroke="#000" stroke-width="1"/>
<line x1="414.55" y1="31.25" x2="419.95" y2="31.25" stroke="#000" stroke-width="1"/>
<rect x="413.75" y="46.0" width="7.0" height="87.0" fill="#000" stroke="#000" stroke-width="1"/>
<line x1="426.625" y1="41.5" x2="426.625" y2="43.75" stroke="#000" stroke-width="1"/>
<line x1="423.925" y1="41.5" x2="429.325" y2="41.5" stroke="#000" stroke-width="1"/>
<rect x="423.0" y="44.25" width="7.25" height="88.75" fill="#fff" stroke="#000" stroke-width="1"/>
<line x1="436.375" y1="21.75" x2="436.375" y2="32.5" stroke="#000" stroke-width="1"/>
<line x1="433.675" y1="21.75" x2="439.075" y2="21.75" stroke="#000" stroke-width="1"/>
<rect x="432.5" y="33.0" width="7.75" height="100.0" fill="#000" stroke="#000" stroke-width="1"/>
<line x1="408" y1="26.2" x2="417" y2="26.2" stroke="#000" stroke-width="1"/>
<text x="413.2" y="27.6" font-size="8.5" text-anchor="middle" font-weight="normal" >*</text>
<text x="399.3" y="148" font-size="10.3" text-anchor="start" font-weight="normal" textLength="43.8" lengthAdjust="spacingAndGlyphs" >CD4 CD8</text>
<rect x="451.9" y="17.6" width="8.900000000000034" height="7.299999999999997" fill="#fff" stroke="#000" stroke-width="1"/>
<rect x="451.9" y="30.7" width="8.900000000000034" height="7.300000000000001" fill="#000" stroke="#000" stroke-width="1"/>
<text x="462.2" y="25.2" font-size="10.8" text-anchor="start" font-weight="normal" textLength="13.1" lengthAdjust="spacingAndGlyphs" >LR</text>
<text x="462.2" y="38.3" font-size="10.8" text-anchor="start" font-weight="normal" textLength="14.9" lengthAdjust="spacingAndGlyphs" >HR</text>
<text x="-0.8" y="181" font-size="11.6" text-anchor="start" font-weight="bold" >D</text>
<text x="44.5" y="185" font-size="9.8" text-anchor="start" font-weight="normal" textLength="23" lengthAdjust="spacingAndGlyphs" >TNF&#945;</text>
<text transform="translate(16,252.7) rotate(-90)" font-size="9.8" text-anchor="middle">% T cells</text>
<line x1="40" y1="195.25" x2="40" y2="312.85" stroke="#000" stroke-width="1.2"/>
<line x1="39.4" y1="312.25" x2="77.5" y2="312.25" stroke="#000" stroke-width="1.2"/>
<line x1="37.1" y1="312.25" x2="40" y2="312.25" stroke="#000" stroke-width="1"/>
<text x="36.900000000000006" y="315.5" font-size="9.8" text-anchor="end" font-weight="normal" >0</text>
<line x1="37.1" y1="300.6" x2="40" y2="300.6" stroke="#000" stroke-width="1"/>
<text x="36.900000000000006" y="303.85" font-size="9.8" text-anchor="end" font-weight="normal" >10</text>
<line x1="37.1" y1="288.95" x2="40" y2="288.95" stroke="#000" stroke-width="1"/>
<text x="36.900000000000006" y="292.2" font-size="9.8" text-anchor="end" font-weight="normal" >20</text>
<line x1="37.1" y1="277.3" x2="40" y2="277.3" stroke="#000" stroke-width="1"/>
<text x="36.900000000000006" y="280.55" font-size="9.8" text-anchor="end" font-weight="normal" >30</text>
<line x1="37.1" y1="265.65" x2="40" y2="265.65" stroke="#000" stroke-width="1"/>
<text x="36.900000000000006" y="268.9" font-size="9.8" text-anchor="end" font-weight="normal" >40</text>
<line x1="37.1" y1="254.0" x2="40" y2="254.0" stroke="#000" stroke-width="1"/>
<text x="36.900000000000006" y="257.25" font-size="9.8" text-anchor="end" font-weight="normal" >50</text>
<line x1="37.1" y1="242.35" x2="40" y2="242.35" stroke="#000" stroke-width="1"/>
<text x="36.900000000000006" y="245.6" font-size="9.8" text-anchor="end" font-weight="normal" >60</text>
<line x1="37.1" y1="230.7" x2="40" y2="230.7" stroke="#000" stroke-width="1"/>
<text x="36.900000000000006" y="233.95" font-size="9.8" text-anchor="end" font-weight="normal" >70</text>
<line x1="37.1" y1="219.05" x2="40" y2="219.05" stroke="#000" stroke-width="1"/>
<text x="36.900000000000006" y="222.3" font-size="9.8" text-anchor="end" font-weight="normal" >80</text>
<line x1="37.1" y1="207.4" x2="40" y2="207.4" stroke="#000" stroke-width="1"/>
<text x="36.900000000000006" y="210.65" font-size="9.8" text-anchor="end" font-weight="normal" >90</text>
<line x1="37.1" y1="195.75" x2="40" y2="195.75" stroke="#000" stroke-width="1"/>
<text x="36.900000000000006" y="199.0" font-size="9.8" text-anchor="end" font-weight="normal" >100</text>
<line x1="44.625" y1="230.75" x2="44.625" y2="234" stroke="#000" stroke-width="1"/>
<line x1="41.925" y1="230.75" x2="47.325" y2="230.75" stroke="#000" stroke-width="1"/>
<rect x="40.5" y="234.5" width="8.25" height="77.75" fill="#fff" stroke="#000" stroke-width="1"/>
<line x1="54.2" y1="201" x2="54.2" y2="203.25" stroke="#000" stroke-width="1"/>
<line x1="51.5" y1="201" x2="56.900000000000006" y2="201" stroke="#000" stroke-width="1"/>
<rect x="50.8" y="203.75" width="6.800000000000004" height="108.5" fill="#000" stroke="#000" stroke-width="1"/>
<line x1="63.5" y1="205.5" x2="63.5" y2="211" stroke="#000" stroke-width="1"/>
<line x1="60.8" y1="205.5" x2="66.2" y2="205.5" stroke="#000" stroke-width="1"/>
<rect x="60.0" y="211.5" width="7.0" height="100.75" fill="#fff" stroke="#000" stroke-width="1"/>
<line x1="73.375" y1="202.75" x2="73.375" y2="207.25" stroke="#000" stroke-width="1"/>
<line x1="70.675" y1="202.75" x2="76.075" y2="202.75" stroke="#000" stroke-width="1"/>
<rect x="69.75" y="207.75" width="7.25" height="104.5" fill="#000" stroke="#000" stroke-width="1"/>
<line x1="45.3" y1="199.1" x2="55.2" y2="199.1" stroke="#000" stroke-width="1"/>
<text x="51.2" y="201.2" font-size="10.8" text-anchor="middle" font-weight="normal" >**</text>
<text x="36.1" y="325.5" font-size="10.3" text-anchor="start" font-weight="normal" textLength="43.8" lengthAdjust="spacingAndGlyphs" >CD4 CD8</text>
<text x="141.5" y="184.5" font-size="9.9" text-anchor="middle" font-weight="normal" >perforin</text>
<line x1="121" y1="194.0" x2="121" y2="311.1" stroke="#000" stroke-width="1.2"/>
<line x1="120.4" y1="310.5" x2="158.5" y2="310.5" stroke="#000" stroke-width="1.2"/>
<line x1="118.10000000000001" y1="310.5" x2="121" y2="310.5" stroke="#000" stroke-width="1"/>
<text x="117.9" y="313.75" font-size="9.8" text-anchor="end" font-weight="normal" >0</text>
<line x1="118.10000000000001" y1="287.3" x2="121" y2="287.3" stroke="#000" stroke-width="1"/>
<text x="117.9" y="290.55" font-size="9.8" text-anchor="end" font-weight="normal" >5</text>
<line x1="118.10000000000001" y1="264.1" x2="121" y2="264.1" stroke="#000" stroke-width="1"/>
<text x="117.9" y="267.35" font-size="9.8" text-anchor="end" font-weight="normal" >10</text>
<line x1="118.10000000000001" y1="240.9" x2="121" y2="240.9" stroke="#000" stroke-width="1"/>
<text x="117.9" y="244.15" font-size="9.8" text-anchor="end" font-weight="normal" >15</text>
<line x1="118.10000000000001" y1="217.7" x2="121" y2="217.7" stroke="#000" stroke-width="1"/>
<text x="117.9" y="220.95" font-size="9.8" text-anchor="end" font-weight="normal" >20</text>
<line x1="118.10000000000001" y1="194.5" x2="121" y2="194.5" stroke="#000" stroke-width="1"/>
<text x="117.9" y="197.75" font-size="9.8" text-anchor="end" font-weight="normal" >25</text>
<line x1="125.4" y1="274.25" x2="125.4" y2="291.5" stroke="#000" stroke-width="1"/>
<line x1="122.7" y1="274.25" x2="128.1" y2="274.25" stroke="#000" stroke-width="1"/>
<rect x="121.5" y="292.0" width="7.800000000000011" height="18.5" fill="#fff" stroke="#000" stroke-width="1"/>
<line x1="135.2" y1="296.5" x2="135.2" y2="302.25" stroke="#000" stroke-width="1"/>
<line x1="132.5" y1="296.5" x2="137.89999999999998" y2="296.5" stroke="#000" stroke-width="1"/>
<rect x="131.6" y="302.75" width="7.200000000000017" height="7.75" fill="#000" stroke="#000" stroke-width="1"/>
<line x1="144.75" y1="271.5" x2="144.75" y2="287.25" stroke="#000" stroke-width="1"/>
<line x1="142.05" y1="271.5" x2="147.45" y2="271.5" stroke="#000" stroke-width="1"/>
<rect x="141.0" y="287.75" width="7.5" height="22.75" fill="#fff" stroke="#000" stroke-width="1"/>
<line x1="154.3" y1="199.5" x2="154.3" y2="244" stroke="#000" stroke-width="1"/>
<line x1="151.60000000000002" y1="199.5" x2="157.0" y2="199.5" stroke="#000" stroke-width="1"/>
<rect x="150.8" y="244.5" width="7.0" height="66.0" fill="#000" stroke="#000" stroke-width="1"/>
<text x="116.29999999999998" y="325.4" font-size="10.3" text-anchor="start" font-weight="normal" textLength="43.8" lengthAdjust="spacingAndGlyphs" >CD4 CD8</text>
<text x="222.8" y="186" font-size="9.9" text-anchor="middle" font-weight="normal" >granzyme</text>
<line x1="200.6" y1="196.0" x2="200.6" y2="313.35" stroke="#000" stroke-width="1.2"/>
<line x1="200.0" y1="312.75" x2="238.6" y2="312.75" stroke="#000" stroke-width="1.2"/>
<line x1="197.7" y1="312.75" x2="200.6" y2="312.75" stroke="#000" stroke-width="1"/>
<text x="197.49999999999997" y="316.0" font-size="9.8" text-anchor="end" font-weight="normal" >0</text>
<line x1="197.7" y1="296.14285714285717" x2="200.6" y2="296.14285714285717" stroke="#000" stroke-width="1"/>
<text x="197.49999999999997" y="299.39285714285717" font-size="9.8" text-anchor="end" font-weight="normal" >10</text>
<line x1="197.7" y1="279.5357142857143" x2="200.6" y2="279.5357142857143" stroke="#000" stroke-width="1"/>
<text x="197.49999999999997" y="282.7857142857143" font-size="9.8" text-anchor="end" font-weight="normal" >20</text>
<line x1="197.7" y1="262.92857142857144" x2="200.6" y2="262.92857142857144" stroke="#000" stroke-width="1"/>
<text x="197.49999999999997" y="266.17857142857144" font-size="9.8" text-anchor="end" font-weight="normal" >30</text>
<line x1="197.7" y1="246.32142857142856" x2="200.6" y2="246.32142857142856" stroke="#000" stroke-width="1"/>
<text x="197.49999999999997" y="249.57142857142856" font-size="9.8" text-anchor="end" font-weight="normal" >40</text>
<line x1="197.7" y1="229.71428571428572" x2="200.6" y2="229.71428571428572" stroke="#000" stroke-width="1"/>
<text x="197.49999999999997" y="232.96428571428572" font-size="9.8" text-anchor="end" font-weight="normal" >50</text>
<line x1="197.7" y1="213.10714285714286" x2="200.6" y2="213.10714285714286" stroke="#000" stroke-width="1"/>
<text x="197.49999999999997" y="216.35714285714286" font-size="9.8" text-anchor="end" font-weight="normal" >60</text>
<line x1="197.7" y1="196.5" x2="200.6" y2="196.5" stroke="#000" stroke-width="1"/>
<text x="197.49999999999997" y="199.75" font-size="9.8" text-anchor="end" font-weight="normal" >70</text>
<line x1="205.225" y1="281.5" x2="205.225" y2="296" stroke="#000" stroke-width="1"/>
<line x1="202.525" y1="281.5" x2="207.92499999999998" y2="281.5" stroke="#000" stroke-width="1"/>
<rect x="201.1" y="296.5" width="8.25" height="16.25" fill="#fff" stroke="#000" stroke-width="1"/>
<line x1="215.35" y1="251" x2="215.35" y2="270.25" stroke="#000" stroke-width="1"/>
<line x1="212.65" y1="251" x2="218.04999999999998" y2="251" stroke="#000" stroke-width="1"/>
<rect x="211.85" y="270.75" width="7.0" height="42.0" fill="#000" stroke="#000" stroke-width="1"/>
<line x1="224.975" y1="248" x2="224.975" y2="262.75" stroke="#000" stroke-width="1"/>
<line x1="222.275" y1="248" x2="227.67499999999998" y2="248" stroke="#000" stroke-width="1"/>
<rect x="221.6" y="263.25" width="6.75" height="49.5" fill="#fff" stroke="#000" stroke-width="1"/>
<line x1="234.6" y1="197.6" x2="234.6" y2="206.5" stroke="#000" stroke-width="1"/>
<line x1="231.9" y1="197.6" x2="237.29999999999998" y2="197.6" stroke="#000" stroke-width="1"/>
<rect x="231.1" y="207.0" width="7.0" height="105.75" fill="#000" stroke="#000" stroke-width="1"/>
<line x1="226" y1="195.3" x2="233.8" y2="195.3" stroke="#000" stroke-width="1"/>
<text x="230.3" y="197.1" font-size="8.5" text-anchor="middle" font-weight="normal" >*</text>
<text x="196.6" y="325.5" font-size="10.3" text-anchor="start" font-weight="normal" textLength="43.8" lengthAdjust="spacingAndGlyphs" >CD4 CD8</text>
<rect x="250.9" y="197.3" width="8.499999999999972" height="7.299999999999983" fill="#fff" stroke="#000" stroke-width="1"/>
<rect x="250.9" y="210.2" width="8.499999999999972" height="7.200000000000017" fill="#000" stroke="#000" stroke-width="1"/>
<text x="260.9" y="204.9" font-size="10.8" text-anchor="start" font-weight="normal" textLength="13.1" lengthAdjust="spacingAndGlyphs" >LR</text>
<text x="260.9" y="217.70000000000002" font-size="10.8" text-anchor="start" font-weight="normal" textLength="14.9" lengthAdjust="spacingAndGlyphs" >HR</text>
<text x="291.2" y="181" font-size="11.6" text-anchor="start" font-weight="bold" >E</text>
<text x="307.3" y="190.1" font-size="10" text-anchor="start" font-weight="normal" textLength="52.5" lengthAdjust="spacingAndGlyphs" >CD56<tspan font-size="6.4" dy="-3.6">+</tspan><tspan dy="3.6"> IFN<tspan font-size="8.6">&#947;</tspan></tspan></text>
<text x="368" y="190.1" font-size="10" text-anchor="start" font-weight="normal" textLength="67.8" lengthAdjust="spacingAndGlyphs" >CD56<tspan font-size="6.4" dy="-3.6">+</tspan><tspan dy="3.6"> perforin</tspan></text>
<text x="441.5" y="190.1" font-size="10" text-anchor="start" font-weight="normal" textLength="76.2" lengthAdjust="spacingAndGlyphs" >CD56<tspan font-size="6.4" dy="-3.6">+</tspan><tspan dy="3.6"> granzyme</tspan></text>
<text transform="translate(302.5,260) rotate(-90)" font-size="9.8" text-anchor="middle">% NK cells</text>
<line x1="324.25" y1="201.0" x2="324.25" y2="317.85" stroke="#000" stroke-width="1.2"/>
<line x1="323.65" y1="317.25" x2="345" y2="317.25" stroke="#000" stroke-width="1.2"/>
<line x1="321.34999999999997" y1="317.25" x2="324.25" y2="317.25" stroke="#000" stroke-width="1"/>
<text x="321.15" y="320.5" font-size="9.8" text-anchor="end" font-weight="normal" >0</text>
<line x1="321.34999999999997" y1="305.675" x2="324.25" y2="305.675" stroke="#000" stroke-width="1"/>
<text x="321.15" y="308.925" font-size="9.8" text-anchor="end" font-weight="normal" >10</text>
<line x1="321.34999999999997" y1="294.1" x2="324.25" y2="294.1" stroke="#000" stroke-width="1"/>
<text x="321.15" y="297.35" font-size="9.8" text-anchor="end" font-weight="normal" >20</text>
<line x1="321.34999999999997" y1="282.525" x2="324.25" y2="282.525" stroke="#000" stroke-width="1"/>
<text x="321.15" y="285.775" font-size="9.8" text-anchor="end" font-weight="normal" >30</text>
<line x1="321.34999999999997" y1="270.95" x2="324.25" y2="270.95" stroke="#000" stroke-width="1"/>
<text x="321.15" y="274.2" font-size="9.8" text-anchor="end" font-weight="normal" >40</text>
<line x1="321.34999999999997" y1="259.375" x2="324.25" y2="259.375" stroke="#000" stroke-width="1"/>
<text x="321.15" y="262.625" font-size="9.8" text-anchor="end" font-weight="normal" >50</text>
<line x1="321.34999999999997" y1="247.8" x2="324.25" y2="247.8" stroke="#000" stroke-width="1"/>
<text x="321.15" y="251.05" font-size="9.8" text-anchor="end" font-weight="normal" >60</text>
<line x1="321.34999999999997" y1="236.225" x2="324.25" y2="236.225" stroke="#000" stroke-width="1"/>
<text x="321.15" y="239.475" font-size="9.8" text-anchor="end" font-weight="normal" >70</text>
<line x1="321.34999999999997" y1="224.65" x2="324.25" y2="224.65" stroke="#000" stroke-width="1"/>
<text x="321.15" y="227.9" font-size="9.8" text-anchor="end" font-weight="normal" >80</text>
<line x1="321.34999999999997" y1="213.075" x2="324.25" y2="213.075" stroke="#000" stroke-width="1"/>
<text x="321.15" y="216.325" font-size="9.8" text-anchor="end" font-weight="normal" >90</text>
<line x1="321.34999999999997" y1="201.5" x2="324.25" y2="201.5" stroke="#000" stroke-width="1"/>
<text x="321.15" y="204.75" font-size="9.8" text-anchor="end" font-weight="normal" >100</text>
<line x1="329.0" y1="271" x2="329.0" y2="282.25" stroke="#000" stroke-width="1"/>
<line x1="326.3" y1="271" x2="331.7" y2="271" stroke="#000" stroke-width="1"/>
<rect x="324.75" y="282.75" width="8.5" height="34.5" fill="#fff" stroke="#000" stroke-width="1"/>
<line x1="339.875" y1="222.25" x2="339.875" y2="236" stroke="#000" stroke-width="1"/>
<line x1="337.175" y1="222.25" x2="342.575" y2="222.25" stroke="#000" stroke-width="1"/>
<rect x="336.0" y="236.5" width="7.75" height="80.75" fill="#000" stroke="#000" stroke-width="1"/>
<line x1="387.5" y1="201.0" x2="387.5" y2="317.85" stroke="#000" stroke-width="1.2"/>
<line x1="386.9" y1="317.25" x2="408" y2="317.25" stroke="#000" stroke-width="1.2"/>
<line x1="384.59999999999997" y1="317.25" x2="387.5" y2="317.25" stroke="#000" stroke-width="1"/>
<text x="384.4" y="320.5" font-size="9.8" text-anchor="end" font-weight="normal" >0</text>
<line x1="384.59999999999997" y1="305.675" x2="387.5" y2="305.675" stroke="#000" stroke-width="1"/>
<text x="384.4" y="308.925" font-size="9.8" text-anchor="end" font-weight="normal" >10</text>
<line x1="384.59999999999997" y1="294.1" x2="387.5" y2="294.1" stroke="#000" stroke-width="1"/>
<text x="384.4" y="297.35" font-size="9.8" text-anchor="end" font-weight="normal" >20</text>
<line x1="384.59999999999997" y1="282.525" x2="387.5" y2="282.525" stroke="#000" stroke-width="1"/>
<text x="384.4" y="285.775" font-size="9.8" text-anchor="end" font-weight="normal" >30</text>
<line x1="384.59999999999997" y1="270.95" x2="387.5" y2="270.95" stroke="#000" stroke-width="1"/>
<text x="384.4" y="274.2" font-size="9.8" text-anchor="end" font-weight="normal" >40</text>
<line x1="384.59999999999997" y1="259.375" x2="387.5" y2="259.375" stroke="#000" stroke-width="1"/>
<text x="384.4" y="262.625" font-size="9.8" text-anchor="end" font-weight="normal" >50</text>
<line x1="384.59999999999997" y1="247.8" x2="387.5" y2="247.8" stroke="#000" stroke-width="1"/>
<text x="384.4" y="251.05" font-size="9.8" text-anchor="end" font-weight="normal" >60</text>
<line x1="384.59999999999997" y1="236.225" x2="387.5" y2="236.225" stroke="#000" stroke-width="1"/>
<text x="384.4" y="239.475" font-size="9.8" text-anchor="end" font-weight="normal" >70</text>
<line x1="384.59999999999997" y1="224.65" x2="387.5" y2="224.65" stroke="#000" stroke-width="1"/>
<text x="384.4" y="227.9" font-size="9.8" text-anchor="end" font-weight="normal" >80</text>
<line x1="384.59999999999997" y1="213.075" x2="387.5" y2="213.075" stroke="#000" stroke-width="1"/>
<text x="384.4" y="216.325" font-size="9.8" text-anchor="end" font-weight="normal" >90</text>
<line x1="384.59999999999997" y1="201.5" x2="387.5" y2="201.5" stroke="#000" stroke-width="1"/>
<text x="384.4" y="204.75" font-size="9.8" text-anchor="end" font-weight="normal" >100</text>
<line x1="392.125" y1="263" x2="392.125" y2="277.25" stroke="#000" stroke-width="1"/>
<line x1="389.425" y1="263" x2="394.825" y2="263" stroke="#000" stroke-width="1"/>
<rect x="388.0" y="277.75" width="8.25" height="39.5" fill="#fff" stroke="#000" stroke-width="1"/>
<line x1="403.125" y1="247.25" x2="403.125" y2="254.75" stroke="#000" stroke-width="1"/>
<line x1="400.425" y1="247.25" x2="405.825" y2="247.25" stroke="#000" stroke-width="1"/>
<rect x="399.25" y="255.25" width="7.75" height="62.0" fill="#000" stroke="#000" stroke-width="1"/>
<line x1="450.75" y1="200.5" x2="450.75" y2="317.35" stroke="#000" stroke-width="1.2"/>
<line x1="450.15" y1="316.75" x2="472" y2="316.75" stroke="#000" stroke-width="1.2"/>
<line x1="447.84999999999997" y1="316.75" x2="450.75" y2="316.75" stroke="#000" stroke-width="1"/>
<text x="447.65" y="320.0" font-size="9.8" text-anchor="end" font-weight="normal" >0</text>
<line x1="447.84999999999997" y1="305.175" x2="450.75" y2="305.175" stroke="#000" stroke-width="1"/>
<text x="447.65" y="308.425" font-size="9.8" text-anchor="end" font-weight="normal" >10</text>
<line x1="447.84999999999997" y1="293.6" x2="450.75" y2="293.6" stroke="#000" stroke-width="1"/>
<text x="447.65" y="296.85" font-size="9.8" text-anchor="end" font-weight="normal" >20</text>
<line x1="447.84999999999997" y1="282.025" x2="450.75" y2="282.025" stroke="#000" stroke-width="1"/>
<text x="447.65" y="285.275" font-size="9.8" text-anchor="end" font-weight="normal" >30</text>
<line x1="447.84999999999997" y1="270.45" x2="450.75" y2="270.45" stroke="#000" stroke-width="1"/>
<text x="447.65" y="273.7" font-size="9.8" text-anchor="end" font-weight="normal" >40</text>
<line x1="447.84999999999997" y1="258.875" x2="450.75" y2="258.875" stroke="#000" stroke-width="1"/>
<text x="447.65" y="262.125" font-size="9.8" text-anchor="end" font-weight="normal" >50</text>
<line x1="447.84999999999997" y1="247.3" x2="450.75" y2="247.3" stroke="#000" stroke-width="1"/>
<text x="447.65" y="250.55" font-size="9.8" text-anchor="end" font-weight="normal" >60</text>
<line x1="447.84999999999997" y1="235.725" x2="450.75" y2="235.725" stroke="#000" stroke-width="1"/>
<text x="447.65" y="238.975" font-size="9.8" text-anchor="end" font-weight="normal" >70</text>
<line x1="447.84999999999997" y1="224.15" x2="450.75" y2="224.15" stroke="#000" stroke-width="1"/>
<text x="447.65" y="227.4" font-size="9.8" text-anchor="end" font-weight="normal" >80</text>
<line x1="447.84999999999997" y1="212.575" x2="450.75" y2="212.575" stroke="#000" stroke-width="1"/>
<text x="447.65" y="215.825" font-size="9.8" text-anchor="end" font-weight="normal" >90</text>
<line x1="447.84999999999997" y1="201.0" x2="450.75" y2="201.0" stroke="#000" stroke-width="1"/>
<text x="447.65" y="204.25" font-size="9.8" text-anchor="end" font-weight="normal" >100</text>
<line x1="456.0" y1="244" x2="456.0" y2="267.25" stroke="#000" stroke-width="1"/>
<line x1="453.3" y1="244" x2="458.7" y2="244" stroke="#000" stroke-width="1"/>
<rect x="451.25" y="267.75" width="9.5" height="49.0" fill="#fff" stroke="#000" stroke-width="1"/>
<line x1="467.5" y1="219.75" x2="467.5" y2="234.75" stroke="#000" stroke-width="1"/>
<line x1="464.8" y1="219.75" x2="470.2" y2="219.75" stroke="#000" stroke-width="1"/>
<rect x="463.75" y="235.25" width="7.5" height="81.5" fill="#000" stroke="#000" stroke-width="1"/>
<rect x="485.8" y="201.0" width="8.899999999999977" height="7.199999999999989" fill="#fff" stroke="#000" stroke-width="1"/>
<rect x="485.8" y="213.8" width="8.899999999999977" height="7.299999999999983" fill="#000" stroke="#000" stroke-width="1"/>
<text x="496.3" y="208.5" font-size="10.8" text-anchor="start" font-weight="normal" textLength="13.1" lengthAdjust="spacingAndGlyphs" >LR</text>
<text x="496.3" y="221.4" font-size="10.8" text-anchor="start" font-weight="normal" textLength="14.9" lengthAdjust="spacingAndGlyphs" >HR</text>
</svg>
</body></html>
